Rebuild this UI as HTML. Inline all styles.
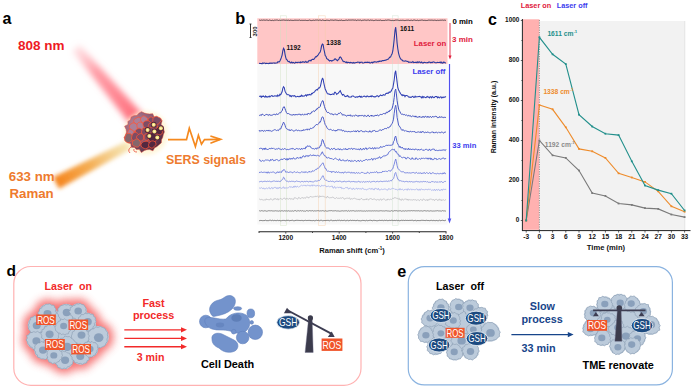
<!DOCTYPE html>
<html><head><meta charset="utf-8"><style>
html,body{margin:0;padding:0;background:#fff;width:692px;height:389px;overflow:hidden}
svg{display:block}
</style></head><body>
<svg width="692" height="389" viewBox="0 0 692 389">
<rect x="257.3" y="18.3" width="190.2" height="45.7" fill="#ffc6c6"/>
<rect x="257.3" y="64" width="190.2" height="160.5" fill="#f8f8f8"/>
<rect x="280.5" y="15.8" width="6.100000000000023" height="209.7" fill="none" stroke="#cfe0c0" stroke-width="0.6" opacity="0.7"/>
<rect x="318.6" y="15.8" width="6.599999999999966" height="209.7" fill="none" stroke="#f4cca8" stroke-width="0.6" opacity="0.7"/>
<rect x="392.3" y="15.8" width="5.800000000000011" height="209.7" fill="none" stroke="#cde0cd" stroke-width="0.6" opacity="0.7"/>
<path d="M259.1,20.19 259.8,20.09 260.5,20.39 261.3,20.04 262.0,20.32 262.7,20.22 263.4,20.03 264.1,20.30 264.9,20.02 265.6,20.26 266.3,20.04 267.0,20.05 267.7,20.25 268.4,20.50 269.2,20.07 269.9,20.13 270.6,20.38 271.3,20.57 272.0,20.35 272.8,20.24 273.5,20.59 274.2,20.03 274.9,20.52 275.6,20.17 276.4,20.09 277.1,20.07 277.8,20.19 278.5,20.49 279.2,20.11 279.9,20.35 280.7,20.38 281.4,20.22 282.1,20.33 282.8,20.04 283.5,20.04 284.3,20.12 285.0,20.41 285.7,20.26 286.4,20.19 287.1,20.35 287.9,20.27 288.6,20.18 289.3,20.48 290.0,20.42 290.7,20.15 291.4,20.34 292.2,20.32 292.9,20.53 293.6,20.44 294.3,20.17 295.0,20.59 295.8,20.07 296.5,20.25 297.2,20.45 297.9,20.09 298.6,20.29 299.4,20.02 300.1,20.40 300.8,20.46 301.5,20.34 302.2,20.53 302.9,20.19 303.7,20.42 304.4,20.36 305.1,20.35 305.8,20.27 306.5,20.50 307.3,20.57 308.0,20.28 308.7,20.40 309.4,20.04 310.1,20.42 310.9,20.39 311.6,20.60 312.3,20.49 313.0,20.17 313.7,20.23 314.5,20.40 315.2,20.01 315.9,20.28 316.6,20.10 317.3,20.07 318.0,20.04 318.8,20.46 319.5,20.08 320.2,20.15 320.9,20.23 321.6,20.52 322.4,20.05 323.1,20.27 323.8,20.33 324.5,20.53 325.2,20.49 326.0,20.52 326.7,20.17 327.4,20.25 328.1,20.22 328.8,20.53 329.5,20.57 330.3,20.09 331.0,20.11 331.7,20.14 332.4,20.14 333.1,20.29 333.9,20.35 334.6,20.16 335.3,20.00 336.0,20.25 336.7,20.22 337.5,20.34 338.2,20.57 338.9,20.41 339.6,20.31 340.3,20.37 341.0,20.41 341.8,20.03 342.5,20.54 343.2,20.47 343.9,20.52 344.6,20.48 345.4,20.24 346.1,20.24 346.8,20.06 347.5,20.38 348.2,20.04 349.0,20.04 349.7,20.13 350.4,20.10 351.1,20.20 351.8,20.03 352.6,20.00 353.3,20.09 354.0,20.06 354.7,20.22 355.4,20.02 356.1,20.52 356.9,20.37 357.6,20.09 358.3,20.15 359.0,20.21 359.7,20.22 360.5,20.07 361.2,20.51 361.9,20.60 362.6,20.28 363.3,20.29 364.1,20.05 364.8,20.06 365.5,20.21 366.2,20.16 366.9,20.50 367.6,20.10 368.4,20.01 369.1,20.57 369.8,20.32 370.5,20.09 371.2,20.33 372.0,20.02 372.7,20.32 373.4,20.59 374.1,20.52 374.8,20.42 375.6,20.16 376.3,20.22 377.0,20.10 377.7,20.46 378.4,20.32 379.1,20.47 379.9,20.20 380.6,20.13 381.3,20.49 382.0,20.59 382.7,20.51 383.5,20.48 384.2,20.49 384.9,20.44 385.6,20.14 386.3,20.31 387.1,20.21 387.8,20.02 388.5,20.02 389.2,20.17 389.9,20.16 390.6,20.42 391.4,20.57 392.1,20.27 392.8,20.56 393.5,20.59 394.2,20.57 395.0,20.22 395.7,20.13 396.4,20.14 397.1,20.12 397.8,20.12 398.6,20.37 399.3,20.54 400.0,20.50 400.7,20.29 401.4,20.39 402.2,20.48 402.9,20.05 403.6,20.40 404.3,20.55 405.0,20.47 405.7,20.45 406.5,20.29 407.2,20.11 407.9,20.47 408.6,20.20 409.3,20.48 410.1,20.58 410.8,20.24 411.5,20.24 412.2,20.57 412.9,20.43 413.7,20.10 414.4,20.08 415.1,20.09 415.8,20.54 416.5,20.48 417.2,20.09 418.0,20.50 418.7,20.59 419.4,20.39 420.1,20.21 420.8,20.33 421.6,20.08 422.3,20.01 423.0,20.58 423.7,20.39 424.4,20.32 425.2,20.56 425.9,20.26 426.6,20.52 427.3,20.50 428.0,20.13 428.7,20.15 429.5,20.18 430.2,20.14 430.9,20.35 431.6,20.16 432.3,20.25 433.1,20.08 433.8,20.55 434.5,20.21 435.2,20.27 435.9,20.35 436.7,20.54 437.4,20.25 438.1,20.55 438.8,20.30 439.5,20.32 440.2,20.31 441.0,20.01 441.7,20.26 442.4,20.11 443.1,20.00 443.8,20.48 444.6,20.10 445.3,20.28 446.0,20.44" fill="none" stroke="#4a3a40" stroke-width="0.9" opacity="1.0"/>
<path d="M259.1,63.51 259.8,63.22 260.5,63.44 261.3,63.47 262.0,63.74 262.7,62.91 263.4,63.44 264.1,63.05 264.9,63.07 265.6,63.65 266.3,63.32 267.0,63.36 267.7,63.58 268.4,63.74 269.2,63.15 269.9,63.32 270.6,63.16 271.3,63.13 272.0,63.31 272.8,62.97 273.5,63.01 274.2,62.87 274.9,63.34 275.6,62.94 276.4,63.01 277.1,62.92 277.8,61.86 278.5,61.89 279.2,61.89 279.9,61.08 280.7,59.17 281.4,57.43 282.1,55.08 282.8,50.85 283.5,48.31 284.3,49.57 285.0,54.09 285.7,57.35 286.4,59.49 287.1,59.82 287.9,61.27 288.6,61.70 289.3,61.42 290.0,62.55 290.7,62.81 291.4,62.04 292.2,63.00 292.9,62.40 293.6,62.55 294.3,63.18 295.0,63.01 295.8,62.21 296.5,62.54 297.2,62.63 297.9,62.40 298.6,62.21 299.4,62.33 300.1,62.78 300.8,61.90 301.5,62.49 302.2,62.30 302.9,61.73 303.7,62.03 304.4,62.30 305.1,62.07 305.8,61.42 306.5,62.40 307.3,62.02 308.0,62.08 308.7,60.84 309.4,60.82 310.1,60.29 310.9,60.88 311.6,59.93 312.3,59.36 313.0,59.26 313.7,59.33 314.5,58.64 315.2,57.34 315.9,56.55 316.6,56.80 317.3,55.70 318.0,55.19 318.8,53.72 319.5,52.74 320.2,52.07 320.9,49.46 321.6,45.78 322.4,44.09 323.1,44.60 323.8,48.75 324.5,51.81 325.2,55.54 326.0,56.45 326.7,58.66 327.4,59.04 328.1,59.53 328.8,60.24 329.5,61.03 330.3,60.49 331.0,60.49 331.7,61.05 332.4,60.68 333.1,60.35 333.9,59.97 334.6,59.05 335.3,58.78 336.0,59.50 336.7,60.05 337.5,60.69 338.2,59.74 338.9,59.07 339.6,57.31 340.3,56.84 341.0,57.53 341.8,59.32 342.5,60.09 343.2,61.59 343.9,61.77 344.6,61.59 345.4,62.10 346.1,62.78 346.8,61.87 347.5,62.79 348.2,62.38 349.0,62.50 349.7,62.94 350.4,62.44 351.1,62.60 351.8,62.83 352.6,63.20 353.3,62.44 354.0,63.04 354.7,62.90 355.4,62.82 356.1,62.54 356.9,62.48 357.6,62.13 358.3,62.22 359.0,62.14 359.7,62.94 360.5,62.36 361.2,62.24 361.9,62.14 362.6,63.04 363.3,63.07 364.1,62.82 364.8,62.34 365.5,62.28 366.2,62.33 366.9,62.51 367.6,62.13 368.4,62.46 369.1,62.22 369.8,63.03 370.5,63.02 371.2,62.48 372.0,62.08 372.7,62.91 373.4,62.09 374.1,62.10 374.8,61.63 375.6,62.03 376.3,62.08 377.0,62.05 377.7,61.61 378.4,61.89 379.1,61.20 379.9,61.40 380.6,61.07 381.3,61.30 382.0,60.71 382.7,60.50 383.5,60.63 384.2,60.31 384.9,60.47 385.6,60.10 386.3,60.02 387.1,59.54 387.8,59.19 388.5,58.93 389.2,57.82 389.9,57.11 390.6,57.07 391.4,54.92 392.1,53.85 392.8,50.95 393.5,45.60 394.2,39.24 395.0,30.54 395.7,27.20 396.4,34.08 397.1,43.14 397.8,48.79 398.6,53.31 399.3,55.83 400.0,57.88 400.7,58.97 401.4,59.80 402.2,60.09 402.9,60.90 403.6,60.99 404.3,61.27 405.0,60.92 405.7,60.86 406.5,61.13 407.2,61.52 407.9,61.32 408.6,62.28 409.3,62.03 410.1,62.17 410.8,62.23 411.5,62.34 412.2,62.16 412.9,61.61 413.7,62.60 414.4,62.57 415.1,62.30 415.8,62.36 416.5,62.53 417.2,61.84 418.0,62.66 418.7,62.10 419.4,61.90 420.1,62.14 420.8,62.71 421.6,62.09 422.3,62.74 423.0,63.03 423.7,62.46 424.4,62.33 425.2,62.45 425.9,62.70 426.6,62.81 427.3,62.63 428.0,62.67 428.7,61.99 429.5,62.08 430.2,62.21 430.9,62.80 431.6,62.28 432.3,62.59 433.1,61.93 433.8,61.99 434.5,62.24 435.2,62.72 435.9,62.75 436.7,62.73 437.4,62.26 438.1,62.54 438.8,62.47 439.5,62.47 440.2,62.06 441.0,62.99 441.7,62.15 442.4,63.09 443.1,63.03 443.8,61.93 444.6,62.46 445.3,62.89 446.0,63.07" fill="none" stroke="#2a3a9e" stroke-width="1.1" opacity="1.0"/>
<path d="M259.1,96.49 259.8,96.22 260.5,96.13 261.3,97.23 262.0,96.12 262.7,96.67 263.4,96.01 264.1,96.58 264.9,97.22 265.6,95.98 266.3,97.00 267.0,96.53 267.7,97.09 268.4,96.80 269.2,96.08 269.9,97.06 270.6,96.43 271.3,95.72 272.0,95.66 272.8,96.36 273.5,96.27 274.2,96.00 274.9,95.70 275.6,95.94 276.4,95.81 277.1,96.48 277.8,95.07 278.5,95.99 279.2,95.81 279.9,94.28 280.7,94.79 281.4,93.34 282.1,91.81 282.8,88.40 283.5,86.71 284.3,87.71 285.0,91.13 285.7,92.59 286.4,93.57 287.1,94.48 287.9,94.77 288.6,94.76 289.3,95.06 290.0,96.32 290.7,95.61 291.4,96.66 292.2,95.69 292.9,95.75 293.6,96.15 294.3,95.68 295.0,95.97 295.8,96.85 296.5,96.73 297.2,96.61 297.9,96.33 298.6,96.73 299.4,96.74 300.1,96.13 300.8,96.34 301.5,95.29 302.2,96.27 302.9,95.78 303.7,96.17 304.4,95.93 305.1,95.30 305.8,94.84 306.5,96.04 307.3,94.70 308.0,95.06 308.7,94.69 309.4,94.40 310.1,94.82 310.9,94.89 311.6,93.48 312.3,93.69 313.0,92.72 313.7,92.60 314.5,91.80 315.2,90.85 315.9,90.21 316.6,89.63 317.3,90.05 318.0,88.82 318.8,87.75 319.5,87.95 320.2,86.85 320.9,84.02 321.6,80.68 322.4,78.37 323.1,79.05 323.8,83.02 324.5,86.20 325.2,88.97 326.0,90.70 326.7,92.32 327.4,93.60 328.1,93.98 328.8,93.90 329.5,94.21 330.3,94.59 331.0,94.51 331.7,94.50 332.4,94.02 333.1,94.08 333.9,94.51 334.6,92.21 335.3,92.19 336.0,93.18 336.7,94.33 337.5,93.59 338.2,93.36 338.9,92.44 339.6,91.32 340.3,90.73 341.0,92.59 341.8,93.97 342.5,95.08 343.2,94.45 343.9,94.87 344.6,96.15 345.4,96.61 346.1,96.11 346.8,96.37 347.5,95.57 348.2,96.22 349.0,97.07 349.7,96.96 350.4,97.03 351.1,97.24 351.8,96.18 352.6,95.99 353.3,96.08 354.0,96.64 354.7,96.90 355.4,97.30 356.1,96.98 356.9,96.87 357.6,97.06 358.3,96.60 359.0,96.75 359.7,95.98 360.5,97.10 361.2,96.28 361.9,97.31 362.6,96.89 363.3,96.38 364.1,96.11 364.8,96.29 365.5,96.86 366.2,96.95 366.9,96.06 367.6,95.98 368.4,96.65 369.1,96.72 369.8,96.41 370.5,96.15 371.2,96.69 372.0,95.78 372.7,96.19 373.4,96.39 374.1,97.10 374.8,96.59 375.6,96.90 376.3,96.23 377.0,95.81 377.7,95.76 378.4,96.74 379.1,96.27 379.9,95.57 380.6,95.02 381.3,95.59 382.0,95.70 382.7,95.14 383.5,94.69 384.2,95.07 384.9,95.19 385.6,93.85 386.3,93.24 387.1,93.36 387.8,93.12 388.5,93.13 389.2,92.00 389.9,92.44 390.6,91.79 391.4,90.67 392.1,89.05 392.8,88.30 393.5,84.13 394.2,79.82 395.0,72.84 395.7,70.77 396.4,76.43 397.1,82.13 397.8,87.74 398.6,89.98 399.3,91.36 400.0,92.63 400.7,93.76 401.4,94.73 402.2,95.60 402.9,94.74 403.6,95.38 404.3,95.32 405.0,96.64 405.7,95.53 406.5,95.52 407.2,95.63 407.9,96.22 408.6,97.06 409.3,97.10 410.1,96.94 410.8,97.39 411.5,97.33 412.2,96.47 412.9,96.30 413.7,97.46 414.4,97.20 415.1,96.16 415.8,97.14 416.5,96.73 417.2,96.75 418.0,96.71 418.7,96.48 419.4,96.25 420.1,96.68 420.8,96.81 421.6,97.73 422.3,96.49 423.0,97.77 423.7,96.65 424.4,96.88 425.2,97.59 425.9,97.60 426.6,97.03 427.3,96.46 428.0,97.11 428.7,96.97 429.5,97.80 430.2,96.71 430.9,96.98 431.6,97.79 432.3,96.49 433.1,97.07 433.8,97.68 434.5,97.62 435.2,96.54 435.9,96.54 436.7,96.58 437.4,97.88 438.1,96.89 438.8,97.63 439.5,97.86 440.2,97.03 441.0,96.93 441.7,97.97 442.4,97.46 443.1,96.93 443.8,97.62 444.6,97.03 445.3,96.97 446.0,96.57" fill="none" stroke="#3141b4" stroke-width="1.05" opacity="1.0"/>
<path d="M259.1,115.18 259.8,115.44 260.5,115.00 261.3,115.50 262.0,114.03 262.7,114.37 263.4,114.76 264.1,115.53 264.9,115.53 265.6,114.62 266.3,114.40 267.0,114.69 267.7,114.79 268.4,115.48 269.2,114.28 269.9,115.27 270.6,115.15 271.3,115.28 272.0,115.18 272.8,114.90 273.5,114.42 274.2,114.38 274.9,114.40 275.6,115.02 276.4,113.82 277.1,113.92 277.8,114.67 278.5,113.68 279.2,113.12 279.9,112.66 280.7,112.86 281.4,111.47 282.1,110.88 282.8,108.46 283.5,106.99 284.3,106.72 285.0,108.72 285.7,110.63 286.4,112.49 287.1,113.57 287.9,113.62 288.6,113.59 289.3,114.09 290.0,114.57 290.7,114.76 291.4,114.95 292.2,115.17 292.9,114.92 293.6,114.08 294.3,115.26 295.0,114.39 295.8,114.84 296.5,114.53 297.2,115.11 297.9,114.24 298.6,114.30 299.4,114.28 300.1,114.10 300.8,115.24 301.5,114.72 302.2,114.27 302.9,114.33 303.7,115.23 304.4,114.38 305.1,113.86 305.8,114.69 306.5,114.33 307.3,114.74 308.0,113.17 308.7,113.60 309.4,113.95 310.1,113.75 310.9,113.60 311.6,111.88 312.3,111.92 313.0,111.22 313.7,110.86 314.5,111.58 315.2,110.39 315.9,110.35 316.6,108.87 317.3,109.10 318.0,107.92 318.8,107.11 319.5,107.33 320.2,106.69 320.9,103.85 321.6,102.46 322.4,100.71 323.1,100.84 323.8,104.02 324.5,106.58 325.2,108.78 326.0,110.29 326.7,111.82 327.4,112.61 328.1,112.42 328.8,112.51 329.5,113.33 330.3,114.15 331.0,113.56 331.7,113.93 332.4,113.90 333.1,114.95 333.9,114.65 334.6,113.93 335.3,114.03 336.0,114.50 336.7,114.70 337.5,114.71 338.2,113.57 338.9,113.21 339.6,113.39 340.3,112.60 341.0,112.93 341.8,113.72 342.5,115.27 343.2,114.57 343.9,115.18 344.6,114.99 345.4,115.18 346.1,115.97 346.8,116.24 347.5,115.28 348.2,115.05 349.0,115.93 349.7,115.12 350.4,114.83 351.1,116.29 351.8,115.54 352.6,116.20 353.3,115.55 354.0,116.33 354.7,115.67 355.4,115.20 356.1,114.98 356.9,115.85 357.6,116.00 358.3,116.44 359.0,115.14 359.7,115.99 360.5,115.60 361.2,115.82 361.9,115.25 362.6,115.47 363.3,115.85 364.1,116.50 364.8,115.19 365.5,115.79 366.2,116.29 366.9,116.54 367.6,115.31 368.4,115.18 369.1,116.48 369.8,116.51 370.5,115.71 371.2,115.00 372.0,116.37 372.7,115.48 373.4,116.27 374.1,115.78 374.8,116.06 375.6,114.95 376.3,115.90 377.0,114.93 377.7,115.14 378.4,115.76 379.1,115.64 379.9,114.49 380.6,114.41 381.3,114.55 382.0,114.56 382.7,114.15 383.5,113.50 384.2,113.44 384.9,113.91 385.6,113.86 386.3,112.13 387.1,112.59 387.8,112.50 388.5,110.94 389.2,111.78 389.9,110.14 390.6,110.33 391.4,109.45 392.1,108.35 392.8,105.84 393.5,102.66 394.2,97.56 395.0,90.85 395.7,89.06 396.4,93.91 397.1,100.72 397.8,105.00 398.6,109.08 399.3,110.85 400.0,111.76 400.7,113.51 401.4,114.18 402.2,114.15 402.9,114.08 403.6,114.85 404.3,114.50 405.0,114.73 405.7,115.38 406.5,114.97 407.2,115.65 407.9,115.87 408.6,115.21 409.3,116.24 410.1,115.42 410.8,116.53 411.5,116.66 412.2,116.29 412.9,115.60 413.7,116.37 414.4,116.21 415.1,117.16 415.8,115.89 416.5,117.08 417.2,117.33 418.0,116.94 418.7,117.10 419.4,116.13 420.1,117.42 420.8,116.66 421.6,117.43 422.3,117.38 423.0,116.20 423.7,117.22 424.4,117.47 425.2,116.10 425.9,116.58 426.6,117.24 427.3,116.31 428.0,117.50 428.7,116.52 429.5,117.41 430.2,116.35 430.9,116.94 431.6,117.62 432.3,116.49 433.1,116.60 433.8,117.00 434.5,116.71 435.2,116.28 435.9,116.52 436.7,116.50 437.4,117.76 438.1,117.36 438.8,117.72 439.5,116.57 440.2,117.56 441.0,116.50 441.7,117.18 442.4,117.36 443.1,116.93 443.8,117.77 444.6,117.27 445.3,117.32 446.0,117.82" fill="none" stroke="#4050c0" stroke-width="1.0" opacity="1.0"/>
<path d="M259.1,130.05 259.8,131.47 260.5,130.89 261.3,130.52 262.0,131.16 262.7,130.31 263.4,131.48 264.1,130.82 264.9,130.47 265.6,131.11 266.3,130.60 267.0,130.17 267.7,131.07 268.4,129.96 269.2,131.18 269.9,130.27 270.6,130.88 271.3,131.42 272.0,130.76 272.8,130.87 273.5,130.28 274.2,129.75 274.9,129.76 275.6,129.90 276.4,130.57 277.1,130.19 277.8,130.19 278.5,130.63 279.2,129.16 279.9,128.94 280.7,129.03 281.4,127.07 282.1,125.52 282.8,123.99 283.5,122.08 284.3,123.30 285.0,125.20 285.7,127.52 286.4,128.65 287.1,128.72 287.9,129.82 288.6,129.87 289.3,129.52 290.0,130.94 290.7,129.92 291.4,129.84 292.2,129.81 292.9,130.71 293.6,131.11 294.3,130.99 295.0,130.39 295.8,130.17 296.5,129.76 297.2,130.77 297.9,130.63 298.6,130.27 299.4,130.72 300.1,130.37 300.8,131.13 301.5,130.76 302.2,129.94 302.9,130.93 303.7,129.50 304.4,130.21 305.1,129.92 305.8,129.56 306.5,129.16 307.3,130.18 308.0,128.81 308.7,129.50 309.4,129.92 310.1,128.41 310.9,128.23 311.6,128.56 312.3,128.03 313.0,127.83 313.7,127.62 314.5,126.07 315.2,125.72 315.9,125.11 316.6,124.12 317.3,124.91 318.0,124.23 318.8,123.62 319.5,121.89 320.2,122.34 320.9,120.71 321.6,118.12 322.4,116.81 323.1,117.11 323.8,119.66 324.5,122.34 325.2,124.62 326.0,125.72 326.7,127.16 327.4,128.52 328.1,128.95 328.8,129.59 329.5,129.69 330.3,129.23 331.0,129.89 331.7,129.87 332.4,130.58 333.1,130.27 333.9,129.95 334.6,130.62 335.3,131.19 336.0,130.02 336.7,131.06 337.5,129.61 338.2,129.84 338.9,129.49 339.6,129.85 340.3,129.96 341.0,130.02 341.8,129.86 342.5,131.12 343.2,130.46 343.9,130.47 344.6,131.64 345.4,131.27 346.1,131.42 346.8,131.42 347.5,131.96 348.2,131.18 349.0,131.80 349.7,131.60 350.4,131.87 351.1,131.22 351.8,131.70 352.6,131.46 353.3,131.06 354.0,130.92 354.7,131.58 355.4,130.72 356.1,132.07 356.9,130.85 357.6,130.67 358.3,130.80 359.0,132.12 359.7,131.19 360.5,130.87 361.2,130.69 361.9,130.71 362.6,131.75 363.3,131.66 364.1,131.76 364.8,131.82 365.5,130.74 366.2,131.57 366.9,131.20 367.6,131.91 368.4,131.90 369.1,132.00 369.8,130.67 370.5,131.93 371.2,131.98 372.0,132.00 372.7,130.63 373.4,130.76 374.1,130.57 374.8,130.40 375.6,131.65 376.3,131.53 377.0,131.18 377.7,131.41 378.4,131.01 379.1,130.36 379.9,129.94 380.6,129.81 381.3,130.71 382.0,129.65 382.7,129.63 383.5,129.57 384.2,128.66 384.9,128.75 385.6,128.46 386.3,128.80 387.1,127.87 387.8,127.40 388.5,128.02 389.2,126.86 389.9,126.94 390.6,126.01 391.4,124.29 392.1,123.73 392.8,121.84 393.5,119.14 394.2,113.28 395.0,107.61 395.7,105.27 396.4,109.77 397.1,117.41 397.8,120.95 398.6,125.14 399.3,126.02 400.0,127.02 400.7,128.22 401.4,129.74 402.2,130.56 402.9,129.36 403.6,130.43 404.3,130.66 405.0,131.34 405.7,130.52 406.5,131.15 407.2,131.03 407.9,131.90 408.6,131.07 409.3,132.24 410.1,131.26 410.8,131.21 411.5,132.04 412.2,131.77 412.9,131.19 413.7,132.07 414.4,131.22 415.1,132.39 415.8,132.28 416.5,132.45 417.2,132.23 418.0,131.82 418.7,131.92 419.4,131.93 420.1,132.75 420.8,131.48 421.6,132.79 422.3,131.43 423.0,131.73 423.7,131.84 424.4,132.88 425.2,132.26 425.9,132.08 426.6,132.90 427.3,131.88 428.0,132.26 428.7,132.38 429.5,132.75 430.2,132.77 430.9,132.61 431.6,132.15 432.3,132.12 433.1,131.86 433.8,132.97 434.5,132.70 435.2,132.84 435.9,131.93 436.7,132.37 437.4,132.92 438.1,132.62 438.8,131.91 439.5,132.45 440.2,133.14 441.0,132.12 441.7,132.05 442.4,132.24 443.1,132.89 443.8,133.13 444.6,132.03 445.3,132.04 446.0,132.20" fill="none" stroke="#4e5ec8" stroke-width="1.0" opacity="1.0"/>
<path d="M259.1,148.42 259.8,148.81 260.5,148.09 261.3,148.43 262.0,148.16 262.7,149.74 263.4,149.25 264.1,148.00 264.9,149.73 265.6,148.01 266.3,148.58 267.0,149.78 267.7,149.41 268.4,149.29 269.2,148.70 269.9,148.23 270.6,149.11 271.3,148.06 272.0,148.26 272.8,148.63 273.5,147.92 274.2,148.66 274.9,149.45 275.6,149.25 276.4,148.87 277.1,149.14 277.8,148.81 278.5,148.17 279.2,149.10 279.9,148.70 280.7,149.38 281.4,149.71 282.1,148.76 282.8,149.05 283.5,149.41 284.3,148.75 285.0,148.37 285.7,149.36 286.4,149.68 287.1,149.47 287.9,149.32 288.6,149.63 289.3,149.29 290.0,149.21 290.7,148.84 291.4,148.56 292.2,149.19 292.9,148.12 293.6,148.77 294.3,149.49 295.0,149.35 295.8,149.18 296.5,148.41 297.2,148.75 297.9,148.80 298.6,149.12 299.4,148.68 300.1,149.19 300.8,149.67 301.5,148.13 302.2,149.02 302.9,149.20 303.7,148.32 304.4,148.37 305.1,149.12 305.8,146.90 306.5,147.36 307.3,145.81 308.0,146.20 308.7,146.30 309.4,146.12 310.1,146.13 310.9,147.71 311.6,148.05 312.3,148.64 313.0,148.38 313.7,148.72 314.5,149.14 315.2,148.52 315.9,148.26 316.6,149.26 317.3,147.66 318.0,148.41 318.8,147.51 319.5,147.73 320.2,145.59 320.9,145.85 321.6,142.30 322.4,139.43 323.1,140.20 323.8,142.94 324.5,144.32 325.2,146.46 326.0,147.27 326.7,148.31 327.4,147.94 328.1,147.98 328.8,148.05 329.5,149.20 330.3,149.68 331.0,148.92 331.7,148.35 332.4,149.56 333.1,148.77 333.9,148.44 334.6,148.30 335.3,149.61 336.0,149.70 336.7,149.36 337.5,149.04 338.2,149.24 338.9,148.58 339.6,150.06 340.3,148.85 341.0,149.42 341.8,149.79 342.5,149.79 343.2,149.10 343.9,148.75 344.6,149.26 345.4,148.42 346.1,149.83 346.8,148.88 347.5,149.87 348.2,148.70 349.0,148.92 349.7,148.67 350.4,149.01 351.1,148.53 351.8,148.16 352.6,149.59 353.3,148.71 354.0,148.63 354.7,148.73 355.4,149.08 356.1,148.97 356.9,149.38 357.6,149.41 358.3,148.80 359.0,149.92 359.7,149.76 360.5,148.15 361.2,149.67 361.9,149.81 362.6,149.54 363.3,148.23 364.1,149.59 364.8,149.16 365.5,147.90 366.2,147.86 366.9,149.70 367.6,149.07 368.4,148.22 369.1,147.87 369.8,147.90 370.5,148.03 371.2,149.05 372.0,148.12 372.7,147.66 373.4,149.09 374.1,148.78 374.8,147.43 375.6,148.78 376.3,148.10 377.0,148.33 377.7,147.98 378.4,148.29 379.1,147.93 379.9,147.88 380.6,146.44 381.3,147.27 382.0,146.79 382.7,147.05 383.5,146.29 384.2,147.03 384.9,146.25 385.6,145.55 386.3,145.39 387.1,145.12 387.8,145.77 388.5,144.84 389.2,145.60 389.9,144.87 390.6,145.43 391.4,145.21 392.1,144.86 392.8,144.74 393.5,141.62 394.2,140.87 395.0,136.96 395.7,136.04 396.4,138.96 397.1,142.63 397.8,143.95 398.6,145.42 399.3,147.38 400.0,146.20 400.7,147.74 401.4,148.05 402.2,147.08 402.9,148.44 403.6,148.74 404.3,149.38 405.0,148.29 405.7,149.70 406.5,148.84 407.2,148.87 407.9,149.77 408.6,148.11 409.3,149.54 410.1,149.40 410.8,148.88 411.5,149.97 412.2,149.03 412.9,149.28 413.7,149.42 414.4,149.95 415.1,148.86 415.8,149.34 416.5,149.34 417.2,149.63 418.0,150.20 418.7,149.16 419.4,150.25 420.1,149.43 420.8,149.65 421.6,149.20 422.3,149.69 423.0,150.65 423.7,150.02 424.4,150.32 425.2,149.41 425.9,149.40 426.6,149.38 427.3,149.97 428.0,150.08 428.7,150.39 429.5,148.92 430.2,150.29 430.9,150.63 431.6,149.97 432.3,148.99 433.1,149.50 433.8,148.92 434.5,149.30 435.2,150.77 435.9,150.16 436.7,150.27 437.4,150.54 438.1,150.79 438.8,150.21 439.5,150.23 440.2,150.26 441.0,150.40 441.7,150.21 442.4,150.39 443.1,149.46 443.8,150.38 444.6,149.97 445.3,150.59 446.0,149.28" fill="none" stroke="#4a5ccc" stroke-width="0.95" opacity="1.0"/>
<path d="M259.1,159.98 259.8,159.67 260.5,161.13 261.3,161.39 262.0,160.85 262.7,160.26 263.4,161.15 264.1,161.05 264.9,160.58 265.6,159.95 266.3,160.02 267.0,160.24 267.7,160.01 268.4,160.21 269.2,160.60 269.9,161.16 270.6,159.38 271.3,160.38 272.0,159.29 272.8,159.42 273.5,160.78 274.2,160.28 274.9,160.93 275.6,159.95 276.4,159.06 277.1,159.77 277.8,160.14 278.5,160.79 279.2,160.84 279.9,159.79 280.7,159.62 281.4,158.95 282.1,159.99 282.8,159.08 283.5,158.91 284.3,158.58 285.0,158.51 285.7,159.81 286.4,158.62 287.1,160.25 287.9,158.43 288.6,159.92 289.3,158.37 290.0,158.07 290.7,159.39 291.4,158.35 292.2,159.25 292.9,158.06 293.6,157.69 294.3,159.03 295.0,158.81 295.8,158.98 296.5,158.61 297.2,157.20 297.9,158.16 298.6,158.19 299.4,157.56 300.1,158.36 300.8,156.86 301.5,158.13 302.2,157.49 302.9,155.92 303.7,155.78 304.4,156.90 305.1,157.08 305.8,155.46 306.5,155.78 307.3,156.48 308.0,155.23 308.7,156.51 309.4,155.66 310.1,154.72 310.9,155.27 311.6,155.63 312.3,155.32 313.0,155.78 313.7,154.71 314.5,156.03 315.2,155.18 315.9,155.77 316.6,155.76 317.3,155.34 318.0,155.26 318.8,155.98 319.5,156.12 320.2,155.45 320.9,154.40 321.6,152.96 322.4,151.75 323.1,153.85 323.8,154.45 324.5,155.84 325.2,155.69 326.0,156.82 326.7,157.99 327.4,158.02 328.1,157.82 328.8,157.45 329.5,157.88 330.3,158.96 331.0,158.09 331.7,158.84 332.4,158.81 333.1,159.52 333.9,159.46 334.6,158.52 335.3,158.06 336.0,158.68 336.7,159.10 337.5,159.53 338.2,160.08 338.9,160.31 339.6,158.71 340.3,160.38 341.0,160.43 341.8,160.62 342.5,160.12 343.2,159.61 343.9,160.85 344.6,160.84 345.4,160.68 346.1,161.21 346.8,160.16 347.5,159.71 348.2,160.72 349.0,161.27 349.7,160.14 350.4,161.30 351.1,161.71 351.8,160.36 352.6,161.14 353.3,161.31 354.0,160.91 354.7,160.40 355.4,160.50 356.1,161.48 356.9,161.55 357.6,160.86 358.3,160.08 359.0,161.47 359.7,161.35 360.5,160.22 361.2,160.85 361.9,161.41 362.6,161.32 363.3,160.52 364.1,160.35 364.8,160.49 365.5,159.61 366.2,159.53 366.9,159.41 367.6,160.37 368.4,159.60 369.1,159.91 369.8,159.49 370.5,159.62 371.2,158.78 372.0,158.47 372.7,160.26 373.4,158.90 374.1,158.25 374.8,159.17 375.6,159.34 376.3,157.94 377.0,158.66 377.7,157.99 378.4,158.16 379.1,156.96 379.9,156.77 380.6,158.44 381.3,157.93 382.0,156.88 382.7,156.73 383.5,155.78 384.2,156.44 384.9,155.33 385.6,155.95 386.3,155.14 387.1,154.78 387.8,154.59 388.5,152.67 389.2,151.73 389.9,151.50 390.6,150.85 391.4,149.95 392.1,149.12 392.8,149.43 393.5,149.69 394.2,149.09 395.0,150.90 395.7,151.99 396.4,151.50 397.1,153.64 397.8,154.12 398.6,154.29 399.3,156.55 400.0,155.61 400.7,156.61 401.4,157.09 402.2,157.98 402.9,157.64 403.6,157.27 404.3,157.55 405.0,157.11 405.7,158.85 406.5,159.01 407.2,157.56 407.9,157.28 408.6,157.78 409.3,158.04 410.1,159.20 410.8,159.25 411.5,159.16 412.2,157.62 412.9,159.14 413.7,159.02 414.4,158.92 415.1,159.62 415.8,157.79 416.5,157.99 417.2,159.22 418.0,159.61 418.7,159.10 419.4,158.36 420.1,158.95 420.8,159.30 421.6,158.00 422.3,158.44 423.0,158.32 423.7,158.06 424.4,158.78 425.2,158.16 425.9,158.30 426.6,158.11 427.3,159.18 428.0,157.85 428.7,159.26 429.5,158.22 430.2,157.90 430.9,159.69 431.6,158.27 432.3,159.70 433.1,159.56 433.8,159.60 434.5,158.10 435.2,158.72 435.9,158.01 436.7,159.67 437.4,159.50 438.1,159.07 438.8,158.71 439.5,158.48 440.2,159.45 441.0,158.75 441.7,159.05 442.4,158.07 443.1,158.23 443.8,157.89 444.6,159.20 445.3,158.88 446.0,158.05" fill="none" stroke="#5a6ad2" stroke-width="0.95" opacity="1.0"/>
<path d="M259.1,173.05 259.8,172.08 260.5,172.31 261.3,171.91 262.0,172.09 262.7,173.00 263.4,172.20 264.1,171.93 264.9,172.45 265.6,172.18 266.3,173.11 267.0,171.85 267.7,173.24 268.4,171.76 269.2,173.10 269.9,172.74 270.6,172.01 271.3,172.43 272.0,172.12 272.8,172.08 273.5,171.98 274.2,172.24 274.9,173.23 275.6,173.23 276.4,173.10 277.1,171.76 277.8,172.05 278.5,172.98 279.2,171.59 279.9,172.58 280.7,171.75 281.4,172.61 282.1,170.63 282.8,171.12 283.5,169.64 284.3,169.74 285.0,170.38 285.7,172.25 286.4,172.05 287.1,171.67 287.9,172.16 288.6,172.99 289.3,171.91 290.0,172.51 290.7,171.83 291.4,171.91 292.2,172.86 292.9,172.77 293.6,171.95 294.3,171.76 295.0,171.77 295.8,172.60 296.5,172.42 297.2,172.06 297.9,171.94 298.6,172.58 299.4,172.72 300.1,172.87 300.8,172.49 301.5,171.86 302.2,171.62 302.9,172.67 303.7,172.12 304.4,172.59 305.1,171.49 305.8,172.65 306.5,171.84 307.3,172.60 308.0,172.57 308.7,171.90 309.4,171.04 310.1,172.37 310.9,171.55 311.6,172.04 312.3,170.90 313.0,170.56 313.7,171.36 314.5,170.33 315.2,169.67 315.9,169.63 316.6,169.57 317.3,168.16 318.0,168.48 318.8,167.81 319.5,167.27 320.2,165.77 320.9,165.51 321.6,164.20 322.4,163.21 323.1,162.78 323.8,165.14 324.5,166.52 325.2,168.60 326.0,168.56 326.7,170.60 327.4,171.27 328.1,170.93 328.8,171.26 329.5,171.51 330.3,171.71 331.0,171.03 331.7,172.67 332.4,171.58 333.1,171.60 333.9,171.55 334.6,171.85 335.3,172.81 336.0,171.60 336.7,171.74 337.5,172.75 338.2,171.97 338.9,171.72 339.6,172.68 340.3,172.66 341.0,172.60 341.8,172.91 342.5,171.96 343.2,173.21 343.9,172.98 344.6,171.92 345.4,172.05 346.1,172.66 346.8,172.68 347.5,172.34 348.2,172.09 349.0,172.56 349.7,172.13 350.4,172.87 351.1,173.31 351.8,172.17 352.6,172.86 353.3,173.14 354.0,172.21 354.7,173.27 355.4,173.45 356.1,172.58 356.9,172.63 357.6,173.30 358.3,172.80 359.0,172.60 359.7,173.47 360.5,173.20 361.2,172.50 361.9,172.34 362.6,172.49 363.3,172.65 364.1,173.52 364.8,173.23 365.5,173.40 366.2,173.23 366.9,173.28 367.6,171.99 368.4,172.73 369.1,173.42 369.8,173.36 370.5,172.25 371.2,172.51 372.0,172.82 372.7,172.37 373.4,172.61 374.1,171.84 374.8,172.39 375.6,172.46 376.3,171.64 377.0,171.78 377.7,173.06 378.4,172.69 379.1,172.87 379.9,172.31 380.6,172.51 381.3,172.54 382.0,172.44 382.7,170.97 383.5,171.84 384.2,171.13 384.9,171.68 385.6,170.93 386.3,171.27 387.1,171.80 387.8,171.24 388.5,170.57 389.2,170.90 389.9,170.63 390.6,171.25 391.4,169.85 392.1,169.31 392.8,168.88 393.5,166.34 394.2,164.25 395.0,161.11 395.7,159.04 396.4,161.64 397.1,165.65 397.8,168.24 398.6,169.12 399.3,169.99 400.0,170.60 400.7,171.26 401.4,171.72 402.2,171.75 402.9,171.84 403.6,171.71 404.3,172.55 405.0,173.10 405.7,172.80 406.5,172.80 407.2,172.98 407.9,172.30 408.6,173.16 409.3,172.79 410.1,172.96 410.8,173.09 411.5,172.89 412.2,172.66 412.9,172.57 413.7,172.55 414.4,173.04 415.1,172.85 415.8,173.18 416.5,172.28 417.2,172.84 418.0,173.67 418.7,172.68 419.4,173.20 420.1,173.11 420.8,172.79 421.6,173.92 422.3,172.82 423.0,173.60 423.7,172.62 424.4,172.48 425.2,173.78 425.9,173.10 426.6,172.50 427.3,173.03 428.0,173.12 428.7,173.60 429.5,172.60 430.2,172.79 430.9,173.98 431.6,173.63 432.3,172.70 433.1,173.00 433.8,173.03 434.5,173.55 435.2,173.46 435.9,173.84 436.7,173.80 437.4,173.32 438.1,173.68 438.8,173.69 439.5,173.72 440.2,173.27 441.0,173.77 441.7,173.66 442.4,173.99 443.1,172.74 443.8,173.93 444.6,172.55 445.3,173.77 446.0,173.49" fill="none" stroke="#6e7ddc" stroke-width="0.9" opacity="1.0"/>
<path d="M259.1,181.38 259.8,181.94 260.5,181.47 261.3,181.29 262.0,181.73 262.7,181.84 263.4,181.52 264.1,181.25 264.9,181.34 265.6,181.34 266.3,181.66 267.0,181.15 267.7,181.26 268.4,181.46 269.2,181.26 269.9,181.18 270.6,181.74 271.3,181.81 272.0,181.38 272.8,181.31 273.5,181.00 274.2,181.13 274.9,180.93 275.6,181.43 276.4,181.42 277.1,180.81 277.8,181.77 278.5,181.00 279.2,181.55 279.9,181.43 280.7,181.38 281.4,180.14 282.1,179.78 282.8,179.25 283.5,177.13 284.3,177.77 285.0,179.63 285.7,180.33 286.4,181.26 287.1,181.32 287.9,181.18 288.6,181.82 289.3,181.30 290.0,181.34 290.7,181.58 291.4,181.25 292.2,181.23 292.9,181.53 293.6,181.24 294.3,181.97 295.0,181.65 295.8,181.48 296.5,180.97 297.2,181.31 297.9,181.35 298.6,181.54 299.4,181.56 300.1,181.93 300.8,182.03 301.5,181.46 302.2,181.41 302.9,181.63 303.7,182.08 304.4,181.29 305.1,181.52 305.8,181.86 306.5,181.08 307.3,181.26 308.0,182.05 308.7,181.86 309.4,181.48 310.1,180.99 310.9,181.92 311.6,181.66 312.3,181.81 313.0,181.99 313.7,181.85 314.5,181.25 315.2,180.90 315.9,181.01 316.6,181.20 317.3,181.09 318.0,180.57 318.8,180.34 319.5,180.54 320.2,179.94 320.9,178.68 321.6,177.95 322.4,176.04 323.1,175.54 323.8,177.60 324.5,179.45 325.2,179.74 326.0,180.71 326.7,180.21 327.4,180.77 328.1,181.56 328.8,181.35 329.5,181.52 330.3,181.01 331.0,181.41 331.7,181.51 332.4,181.19 333.1,181.67 333.9,181.55 334.6,182.13 335.3,181.63 336.0,181.45 336.7,181.11 337.5,181.16 338.2,181.89 338.9,181.12 339.6,181.12 340.3,181.21 341.0,181.64 341.8,182.00 342.5,181.75 343.2,181.99 343.9,181.10 344.6,181.05 345.4,181.96 346.1,181.43 346.8,181.90 347.5,181.47 348.2,181.25 349.0,181.37 349.7,181.18 350.4,182.14 351.1,181.76 351.8,181.48 352.6,181.61 353.3,181.53 354.0,181.14 354.7,182.15 355.4,181.78 356.1,182.23 356.9,181.61 357.6,181.83 358.3,181.39 359.0,181.14 359.7,182.21 360.5,182.12 361.2,181.47 361.9,182.18 362.6,182.08 363.3,181.47 364.1,181.83 364.8,182.26 365.5,181.70 366.2,182.25 366.9,181.40 367.6,181.58 368.4,181.97 369.1,181.38 369.8,181.48 370.5,182.16 371.2,181.69 372.0,182.06 372.7,181.40 373.4,181.32 374.1,181.54 374.8,181.33 375.6,182.27 376.3,181.45 377.0,181.78 377.7,181.24 378.4,181.74 379.1,181.55 379.9,181.57 380.6,181.16 381.3,181.22 382.0,182.05 382.7,181.47 383.5,181.33 384.2,181.24 384.9,181.33 385.6,181.25 386.3,180.97 387.1,181.68 387.8,181.24 388.5,180.94 389.2,181.50 389.9,180.62 390.6,180.64 391.4,181.02 392.1,179.72 392.8,179.37 393.5,178.61 394.2,176.54 395.0,173.15 395.7,172.40 396.4,174.87 397.1,176.96 397.8,179.34 398.6,179.44 399.3,180.94 400.0,180.79 400.7,180.71 401.4,181.15 402.2,180.90 402.9,181.68 403.6,181.22 404.3,182.04 405.0,181.71 405.7,181.49 406.5,181.37 407.2,181.83 407.9,181.38 408.6,182.19 409.3,181.30 410.1,181.79 410.8,181.83 411.5,181.52 412.2,182.13 412.9,181.67 413.7,182.01 414.4,181.91 415.1,181.61 415.8,181.71 416.5,181.35 417.2,181.47 418.0,182.28 418.7,181.65 419.4,182.07 420.1,181.41 420.8,181.95 421.6,181.72 422.3,181.89 423.0,181.65 423.7,181.38 424.4,181.67 425.2,181.58 425.9,181.46 426.6,182.17 427.3,181.65 428.0,181.80 428.7,182.41 429.5,182.25 430.2,182.39 430.9,182.36 431.6,181.49 432.3,181.67 433.1,181.38 433.8,182.16 434.5,182.14 435.2,181.77 435.9,181.85 436.7,182.15 437.4,182.20 438.1,181.66 438.8,182.38 439.5,181.79 440.2,182.12 441.0,181.59 441.7,181.51 442.4,182.47 443.1,182.26 443.8,182.24 444.6,181.43 445.3,181.43 446.0,181.58" fill="none" stroke="#7c8ae0" stroke-width="0.85" opacity="1.0"/>
<path d="M259.1,187.92 259.8,188.12 260.5,188.26 261.3,187.57 262.0,188.10 262.7,188.74 263.4,187.80 264.1,189.11 264.9,188.55 265.6,188.83 266.3,187.89 267.0,188.23 267.7,188.71 268.4,188.02 269.2,187.30 269.9,188.95 270.6,188.81 271.3,187.81 272.0,187.30 272.8,188.90 273.5,188.38 274.2,187.23 274.9,187.60 275.6,187.30 276.4,188.63 277.1,187.44 277.8,188.81 278.5,188.45 279.2,187.09 279.9,188.27 280.7,187.63 281.4,188.30 282.1,188.42 282.8,187.28 283.5,186.85 284.3,188.52 285.0,187.43 285.7,188.39 286.4,187.86 287.1,187.90 287.9,188.03 288.6,187.57 289.3,187.16 290.0,186.31 290.7,187.53 291.4,186.93 292.2,187.03 292.9,187.80 293.6,186.13 294.3,187.33 295.0,185.82 295.8,187.07 296.5,187.20 297.2,186.04 297.9,186.54 298.6,187.31 299.4,186.57 300.1,186.31 300.8,185.64 301.5,185.19 302.2,185.72 302.9,185.76 303.7,185.27 304.4,185.42 305.1,185.02 305.8,186.10 306.5,185.97 307.3,185.06 308.0,185.03 308.7,185.54 309.4,185.37 310.1,186.33 310.9,185.14 311.6,185.03 312.3,186.20 313.0,184.72 313.7,185.57 314.5,185.13 315.2,186.12 315.9,185.62 316.6,186.08 317.3,184.94 318.0,185.99 318.8,185.91 319.5,185.69 320.2,186.37 320.9,186.56 321.6,185.20 322.4,185.62 323.1,185.84 323.8,185.61 324.5,185.40 325.2,185.92 326.0,185.83 326.7,186.92 327.4,186.50 328.1,185.91 328.8,186.41 329.5,186.78 330.3,186.64 331.0,186.33 331.7,186.21 332.4,186.16 333.1,188.20 333.9,187.79 334.6,186.52 335.3,187.85 336.0,188.45 336.7,187.68 337.5,186.83 338.2,187.65 338.9,187.60 339.6,187.16 340.3,187.92 341.0,186.91 341.8,188.78 342.5,188.28 343.2,188.29 343.9,188.96 344.6,188.44 345.4,187.68 346.1,187.71 346.8,187.53 347.5,187.35 348.2,188.88 349.0,189.05 349.7,188.00 350.4,187.81 351.1,188.75 351.8,189.20 352.6,189.39 353.3,187.91 354.0,189.17 354.7,189.29 355.4,189.14 356.1,188.34 356.9,188.08 357.6,189.38 358.3,188.40 359.0,188.52 359.7,188.91 360.5,188.57 361.2,189.51 361.9,188.35 362.6,187.97 363.3,189.05 364.1,189.19 364.8,189.59 365.5,189.38 366.2,189.80 366.9,189.89 367.6,189.01 368.4,189.04 369.1,188.37 369.8,188.67 370.5,189.25 371.2,188.26 372.0,189.49 372.7,188.45 373.4,189.03 374.1,190.09 374.8,188.35 375.6,188.26 376.3,189.07 377.0,188.59 377.7,189.66 378.4,188.23 379.1,189.92 379.9,189.96 380.6,189.83 381.3,189.12 382.0,188.84 382.7,189.61 383.5,189.32 384.2,189.14 384.9,188.98 385.6,189.19 386.3,189.64 387.1,189.97 387.8,190.12 388.5,188.64 389.2,188.89 389.9,189.17 390.6,189.39 391.4,188.92 392.1,188.56 392.8,188.24 393.5,188.58 394.2,188.67 395.0,189.50 395.7,189.32 396.4,189.38 397.1,189.81 397.8,189.97 398.6,189.42 399.3,189.90 400.0,188.46 400.7,189.74 401.4,189.64 402.2,189.05 402.9,189.62 403.6,190.40 404.3,189.47 405.0,189.82 405.7,189.14 406.5,189.24 407.2,190.33 407.9,188.63 408.6,188.96 409.3,189.95 410.1,189.49 410.8,188.78 411.5,189.93 412.2,189.36 412.9,189.79 413.7,189.47 414.4,189.70 415.1,189.78 415.8,189.45 416.5,188.89 417.2,189.03 418.0,190.45 418.7,189.78 419.4,188.91 420.1,190.42 420.8,189.20 421.6,188.89 422.3,189.77 423.0,189.22 423.7,189.70 424.4,189.83 425.2,189.18 425.9,189.88 426.6,188.97 427.3,189.77 428.0,189.93 428.7,188.92 429.5,189.58 430.2,188.92 430.9,189.65 431.6,190.51 432.3,189.88 433.1,190.22 433.8,190.31 434.5,189.03 435.2,190.78 435.9,190.25 436.7,189.02 437.4,190.48 438.1,189.61 438.8,189.17 439.5,190.75 440.2,189.96 441.0,190.39 441.7,189.12 442.4,190.40 443.1,188.97 443.8,189.33 444.6,189.61 445.3,188.90 446.0,190.06" fill="none" stroke="#aab4ec" stroke-width="0.85" opacity="1.0"/>
<path d="M259.1,198.94 259.8,199.09 260.5,199.81 261.3,199.30 262.0,200.13 262.7,199.64 263.4,200.08 264.1,199.52 264.9,200.15 265.6,200.05 266.3,198.78 267.0,199.81 267.7,199.07 268.4,199.82 269.2,199.66 269.9,199.91 270.6,198.64 271.3,199.08 272.0,199.72 272.8,200.09 273.5,199.67 274.2,198.43 274.9,199.43 275.6,198.51 276.4,199.30 277.1,199.74 277.8,198.48 278.5,199.93 279.2,199.46 279.9,198.69 280.7,198.56 281.4,198.99 282.1,199.68 282.8,199.19 283.5,198.33 284.3,198.14 285.0,198.28 285.7,199.49 286.4,198.36 287.1,199.00 287.9,198.49 288.6,199.18 289.3,198.60 290.0,198.14 290.7,199.42 291.4,198.78 292.2,199.02 292.9,199.19 293.6,199.41 294.3,197.68 295.0,198.23 295.8,197.84 296.5,198.43 297.2,199.05 297.9,198.87 298.6,197.44 299.4,197.65 300.1,198.74 300.8,198.44 301.5,197.86 302.2,197.95 302.9,197.32 303.7,198.49 304.4,197.62 305.1,198.41 305.8,197.88 306.5,196.84 307.3,197.23 308.0,196.96 308.7,198.11 309.4,197.49 310.1,196.44 310.9,196.60 311.6,196.88 312.3,197.01 313.0,197.15 313.7,196.75 314.5,196.63 315.2,195.96 315.9,196.94 316.6,196.46 317.3,195.87 318.0,196.63 318.8,197.56 319.5,195.85 320.2,196.03 320.9,196.97 321.6,196.26 322.4,196.28 323.1,196.71 323.8,196.31 324.5,196.90 325.2,196.87 326.0,197.69 326.7,197.80 327.4,196.13 328.1,197.14 328.8,197.58 329.5,197.83 330.3,197.72 331.0,197.53 331.7,197.61 332.4,197.19 333.1,197.11 333.9,198.11 334.6,198.32 335.3,198.51 336.0,198.11 336.7,197.50 337.5,198.39 338.2,198.41 338.9,198.06 339.6,198.35 340.3,197.89 341.0,198.31 341.8,198.11 342.5,197.54 343.2,198.09 343.9,198.12 344.6,199.36 345.4,198.50 346.1,198.33 346.8,198.16 347.5,198.18 348.2,198.43 349.0,198.08 349.7,197.89 350.4,199.48 351.1,198.76 351.8,198.78 352.6,199.03 353.3,198.58 354.0,198.37 354.7,198.22 355.4,198.67 356.1,198.71 356.9,199.48 357.6,199.19 358.3,199.91 359.0,198.86 359.7,199.93 360.5,199.34 361.2,198.45 361.9,198.65 362.6,199.39 363.3,200.14 364.1,199.02 364.8,199.79 365.5,199.19 366.2,199.99 366.9,198.57 367.6,199.33 368.4,200.09 369.1,198.98 369.8,198.96 370.5,198.55 371.2,198.82 372.0,199.02 372.7,199.81 373.4,198.95 374.1,199.28 374.8,198.93 375.6,199.67 376.3,200.15 377.0,199.76 377.7,198.96 378.4,199.93 379.1,200.35 379.9,199.70 380.6,198.77 381.3,200.09 382.0,200.21 382.7,199.25 383.5,198.88 384.2,198.98 384.9,199.60 385.6,200.21 386.3,199.77 387.1,200.27 387.8,198.98 388.5,199.16 389.2,199.89 389.9,199.67 390.6,199.17 391.4,199.57 392.1,198.83 392.8,198.15 393.5,198.53 394.2,197.56 395.0,198.32 395.7,197.71 396.4,198.19 397.1,198.70 397.8,198.39 398.6,199.00 399.3,198.36 400.0,200.12 400.7,199.55 401.4,200.38 402.2,198.75 402.9,199.79 403.6,200.02 404.3,199.33 405.0,198.93 405.7,199.06 406.5,199.05 407.2,200.19 407.9,198.98 408.6,200.29 409.3,199.60 410.1,199.81 410.8,199.91 411.5,199.86 412.2,200.05 412.9,199.95 413.7,199.47 414.4,200.22 415.1,199.35 415.8,200.17 416.5,200.27 417.2,200.30 418.0,199.46 418.7,200.30 419.4,200.67 420.1,199.73 420.8,199.42 421.6,199.86 422.3,200.62 423.0,199.17 423.7,198.95 424.4,199.79 425.2,200.12 425.9,200.33 426.6,199.60 427.3,200.73 428.0,199.36 428.7,200.31 429.5,199.12 430.2,199.01 430.9,199.20 431.6,199.07 432.3,199.87 433.1,199.97 433.8,199.30 434.5,200.66 435.2,199.63 435.9,199.25 436.7,199.30 437.4,200.31 438.1,200.64 438.8,199.28 439.5,199.04 440.2,200.39 441.0,199.43 441.7,200.76 442.4,199.89 443.1,200.14 443.8,199.62 444.6,200.44 445.3,199.83 446.0,199.59" fill="none" stroke="#c0c0c4" stroke-width="0.85" opacity="1.0"/>
<path d="M259.1,211.14 259.8,210.66 260.5,211.04 261.3,210.64 262.0,210.99 262.7,210.84 263.4,211.12 264.1,210.64 264.9,210.94 265.6,210.85 266.3,211.15 267.0,211.17 267.7,210.98 268.4,210.73 269.2,210.75 269.9,210.76 270.6,210.86 271.3,210.74 272.0,210.72 272.8,211.06 273.5,210.99 274.2,210.78 274.9,211.20 275.6,210.73 276.4,210.94 277.1,210.69 277.8,211.12 278.5,211.12 279.2,210.76 279.9,211.05 280.7,211.09 281.4,210.77 282.1,210.80 282.8,210.89 283.5,211.13 284.3,210.70 285.0,211.01 285.7,210.96 286.4,210.87 287.1,210.95 287.9,211.13 288.6,210.73 289.3,211.13 290.0,210.82 290.7,211.07 291.4,211.12 292.2,210.71 292.9,211.12 293.6,211.20 294.3,210.78 295.0,210.61 295.8,210.67 296.5,211.18 297.2,210.61 297.9,211.15 298.6,210.69 299.4,211.04 300.1,210.66 300.8,210.70 301.5,211.01 302.2,210.65 302.9,210.80 303.7,211.15 304.4,211.03 305.1,211.13 305.8,211.19 306.5,210.62 307.3,210.74 308.0,211.08 308.7,211.01 309.4,210.62 310.1,210.90 310.9,210.74 311.6,210.86 312.3,210.66 313.0,210.61 313.7,211.19 314.5,210.79 315.2,211.13 315.9,210.67 316.6,210.89 317.3,210.68 318.0,210.86 318.8,210.71 319.5,211.01 320.2,210.69 320.9,211.04 321.6,210.90 322.4,210.67 323.1,210.81 323.8,210.90 324.5,211.15 325.2,210.81 326.0,210.73 326.7,211.18 327.4,211.13 328.1,211.04 328.8,210.76 329.5,210.71 330.3,210.76 331.0,210.64 331.7,210.63 332.4,210.91 333.1,210.84 333.9,210.93 334.6,210.82 335.3,210.61 336.0,211.01 336.7,210.99 337.5,210.93 338.2,210.93 338.9,211.01 339.6,211.19 340.3,211.12 341.0,211.03 341.8,210.84 342.5,210.79 343.2,210.85 343.9,211.18 344.6,210.83 345.4,210.83 346.1,210.85 346.8,210.69 347.5,211.20 348.2,210.60 349.0,210.96 349.7,211.16 350.4,210.75 351.1,210.97 351.8,210.83 352.6,210.74 353.3,210.72 354.0,210.67 354.7,211.11 355.4,211.07 356.1,211.15 356.9,210.63 357.6,211.02 358.3,210.79 359.0,210.99 359.7,210.93 360.5,210.79 361.2,211.18 361.9,210.60 362.6,211.05 363.3,211.11 364.1,210.91 364.8,210.96 365.5,211.20 366.2,210.74 366.9,210.98 367.6,211.05 368.4,210.83 369.1,211.03 369.8,210.84 370.5,210.92 371.2,210.97 372.0,211.01 372.7,210.79 373.4,210.98 374.1,210.93 374.8,210.73 375.6,210.97 376.3,210.76 377.0,211.15 377.7,210.88 378.4,211.03 379.1,210.91 379.9,210.89 380.6,210.73 381.3,210.69 382.0,211.16 382.7,210.92 383.5,210.91 384.2,210.92 384.9,211.09 385.6,210.74 386.3,210.70 387.1,211.09 387.8,210.88 388.5,210.98 389.2,211.10 389.9,211.14 390.6,211.12 391.4,210.63 392.1,210.83 392.8,211.10 393.5,211.09 394.2,210.67 395.0,210.69 395.7,210.75 396.4,210.66 397.1,210.81 397.8,211.08 398.6,210.91 399.3,210.87 400.0,210.65 400.7,210.84 401.4,211.20 402.2,211.02 402.9,210.87 403.6,210.89 404.3,211.08 405.0,211.06 405.7,210.69 406.5,211.01 407.2,210.82 407.9,210.91 408.6,210.74 409.3,210.82 410.1,210.80 410.8,210.83 411.5,210.61 412.2,210.72 412.9,210.94 413.7,210.63 414.4,210.71 415.1,211.03 415.8,210.76 416.5,210.79 417.2,210.75 418.0,211.10 418.7,210.65 419.4,210.98 420.1,211.12 420.8,210.72 421.6,210.85 422.3,211.08 423.0,210.97 423.7,210.82 424.4,210.63 425.2,210.87 425.9,210.82 426.6,211.03 427.3,210.78 428.0,210.84 428.7,210.99 429.5,211.09 430.2,210.81 430.9,210.83 431.6,210.95 432.3,211.15 433.1,210.71 433.8,211.18 434.5,211.03 435.2,210.82 435.9,211.00 436.7,210.80 437.4,210.64 438.1,211.05 438.8,210.83 439.5,210.92 440.2,210.90 441.0,211.14 441.7,211.05 442.4,210.62 443.1,210.96 443.8,210.88 444.6,210.88 445.3,211.10 446.0,210.85" fill="none" stroke="#5a5a5a" stroke-width="0.7" opacity="1.0"/>
<path d="M259.1,220.48 259.8,220.73 260.5,220.46 261.3,220.49 262.0,220.51 262.7,220.69 263.4,220.60 264.1,220.64 264.9,220.44 265.6,220.22 266.3,220.61 267.0,220.53 267.7,220.66 268.4,220.66 269.2,220.27 269.9,220.33 270.6,220.25 271.3,220.69 272.0,220.26 272.8,220.25 273.5,220.65 274.2,220.54 274.9,220.23 275.6,220.61 276.4,220.63 277.1,220.49 277.8,220.23 278.5,220.61 279.2,220.45 279.9,220.55 280.7,220.80 281.4,220.69 282.1,220.72 282.8,220.29 283.5,220.40 284.3,220.51 285.0,220.20 285.7,220.79 286.4,220.36 287.1,220.36 287.9,220.39 288.6,220.35 289.3,220.72 290.0,220.53 290.7,220.51 291.4,220.45 292.2,220.23 292.9,220.38 293.6,220.72 294.3,220.68 295.0,220.71 295.8,220.35 296.5,220.32 297.2,220.23 297.9,220.52 298.6,220.42 299.4,220.48 300.1,220.49 300.8,220.55 301.5,220.42 302.2,220.68 302.9,220.32 303.7,220.75 304.4,220.53 305.1,220.23 305.8,220.39 306.5,220.52 307.3,220.45 308.0,220.54 308.7,220.39 309.4,220.36 310.1,220.68 310.9,220.37 311.6,220.63 312.3,220.68 313.0,220.56 313.7,220.47 314.5,220.76 315.2,220.47 315.9,220.73 316.6,220.23 317.3,220.46 318.0,220.58 318.8,220.23 319.5,220.72 320.2,220.24 320.9,220.56 321.6,220.31 322.4,220.75 323.1,220.54 323.8,220.68 324.5,220.50 325.2,220.60 326.0,220.60 326.7,220.38 327.4,220.33 328.1,220.70 328.8,220.29 329.5,220.75 330.3,220.32 331.0,220.26 331.7,220.26 332.4,220.67 333.1,220.77 333.9,220.45 334.6,220.60 335.3,220.35 336.0,220.74 336.7,220.61 337.5,220.29 338.2,220.23 338.9,220.62 339.6,220.23 340.3,220.70 341.0,220.38 341.8,220.34 342.5,220.55 343.2,220.39 343.9,220.54 344.6,220.29 345.4,220.75 346.1,220.39 346.8,220.70 347.5,220.29 348.2,220.68 349.0,220.79 349.7,220.43 350.4,220.22 351.1,220.43 351.8,220.58 352.6,220.33 353.3,220.53 354.0,220.26 354.7,220.48 355.4,220.64 356.1,220.46 356.9,220.61 357.6,220.27 358.3,220.70 359.0,220.27 359.7,220.75 360.5,220.80 361.2,220.76 361.9,220.52 362.6,220.37 363.3,220.41 364.1,220.65 364.8,220.50 365.5,220.76 366.2,220.26 366.9,220.49 367.6,220.72 368.4,220.56 369.1,220.52 369.8,220.25 370.5,220.28 371.2,220.36 372.0,220.74 372.7,220.71 373.4,220.34 374.1,220.75 374.8,220.22 375.6,220.56 376.3,220.78 377.0,220.41 377.7,220.77 378.4,220.59 379.1,220.23 379.9,220.40 380.6,220.47 381.3,220.35 382.0,220.65 382.7,220.31 383.5,220.67 384.2,220.38 384.9,220.24 385.6,220.54 386.3,220.26 387.1,220.53 387.8,220.67 388.5,220.56 389.2,220.48 389.9,220.22 390.6,220.51 391.4,220.26 392.1,220.59 392.8,220.28 393.5,220.55 394.2,220.41 395.0,220.42 395.7,220.60 396.4,220.30 397.1,220.30 397.8,220.76 398.6,220.40 399.3,220.71 400.0,220.72 400.7,220.49 401.4,220.29 402.2,220.26 402.9,220.73 403.6,220.27 404.3,220.50 405.0,220.52 405.7,220.27 406.5,220.48 407.2,220.30 407.9,220.52 408.6,220.50 409.3,220.42 410.1,220.32 410.8,220.44 411.5,220.32 412.2,220.28 412.9,220.34 413.7,220.72 414.4,220.50 415.1,220.73 415.8,220.21 416.5,220.77 417.2,220.49 418.0,220.67 418.7,220.54 419.4,220.61 420.1,220.34 420.8,220.65 421.6,220.29 422.3,220.36 423.0,220.22 423.7,220.44 424.4,220.51 425.2,220.38 425.9,220.73 426.6,220.25 427.3,220.55 428.0,220.34 428.7,220.56 429.5,220.67 430.2,220.63 430.9,220.24 431.6,220.35 432.3,220.56 433.1,220.79 433.8,220.22 434.5,220.57 435.2,220.62 435.9,220.69 436.7,220.41 437.4,220.69 438.1,220.48 438.8,220.75 439.5,220.21 440.2,220.76 441.0,220.45 441.7,220.44 442.4,220.25 443.1,220.35 443.8,220.64 444.6,220.61 445.3,220.29 446.0,220.41" fill="none" stroke="#4a4a4a" stroke-width="0.7" opacity="1.0"/>
<line x1="258.5" y1="231.8" x2="446.5" y2="231.8" stroke="#222" stroke-width="1.1"/>
<line x1="259.1" y1="232" x2="259.1" y2="233.0" stroke="#222" stroke-width="0.8"/>
<line x1="285.8" y1="232" x2="285.8" y2="233.6" stroke="#222" stroke-width="0.8"/>
<line x1="312.5" y1="232" x2="312.5" y2="233.0" stroke="#222" stroke-width="0.8"/>
<line x1="339.2" y1="232" x2="339.2" y2="233.6" stroke="#222" stroke-width="0.8"/>
<line x1="365.9" y1="232" x2="365.9" y2="233.0" stroke="#222" stroke-width="0.8"/>
<line x1="392.6" y1="232" x2="392.6" y2="233.6" stroke="#222" stroke-width="0.8"/>
<line x1="419.3" y1="232" x2="419.3" y2="233.0" stroke="#222" stroke-width="0.8"/>
<line x1="446.0" y1="232" x2="446.0" y2="233.6" stroke="#222" stroke-width="0.8"/>
<text x="285.8" y="240.2" font-size="6.6" font-weight="bold" text-anchor="middle" fill="#111" font-family="Liberation Sans, sans-serif">1200</text>
<text x="339.2" y="240.2" font-size="6.6" font-weight="bold" text-anchor="middle" fill="#111" font-family="Liberation Sans, sans-serif">1400</text>
<text x="392.6" y="240.2" font-size="6.6" font-weight="bold" text-anchor="middle" fill="#111" font-family="Liberation Sans, sans-serif">1600</text>
<text x="446.0" y="240.2" font-size="6.6" font-weight="bold" text-anchor="middle" fill="#111" font-family="Liberation Sans, sans-serif">1800</text>
<text x="352" y="253" font-size="7.6" font-weight="bold" text-anchor="middle" fill="#111" font-family="Liberation Sans, sans-serif">Raman shift (cm<tspan font-size="4.5" dy="-3">-1</tspan><tspan dy="3">)</tspan></text>
<line x1="250.5" y1="24" x2="250.5" y2="37.5" stroke="#222" stroke-width="0.9"/>
<line x1="249.5" y1="24" x2="251.5" y2="24" stroke="#222" stroke-width="0.8"/>
<line x1="249.5" y1="37.5" x2="251.5" y2="37.5" stroke="#222" stroke-width="0.8"/>
<text transform="translate(256.8,31.4) rotate(-90)" font-size="6.0" font-weight="bold" text-anchor="middle" fill="#111" font-family="Liberation Sans, sans-serif">300</text>
<text x="235.2" y="23.8" font-size="16.3" font-weight="bold" fill="#000" font-family="Liberation Sans, sans-serif">b</text>
<text x="286.6" y="49.6" font-size="6.5" font-weight="bold" fill="#111" font-family="Liberation Sans, sans-serif">1192</text>
<text x="326.3" y="45.1" font-size="6.5" font-weight="bold" fill="#111" font-family="Liberation Sans, sans-serif">1338</text>
<text x="400" y="31" font-size="6.5" font-weight="bold" fill="#111" font-family="Liberation Sans, sans-serif">1611</text>
<text x="446.3" y="45.6" font-size="7.8" font-weight="bold" text-anchor="end" fill="#e0203c" font-family="Liberation Sans, sans-serif">Laser on</text>
<text x="445.4" y="73.8" font-size="7.8" font-weight="bold" text-anchor="end" fill="#3c3cee" font-family="Liberation Sans, sans-serif">Laser off</text>
<text x="452.4" y="23.6" font-size="7.8" font-weight="bold" fill="#000" font-family="Liberation Sans, sans-serif">0 min</text>
<text x="452" y="42" font-size="8" font-weight="bold" fill="#e0203c" font-family="Liberation Sans, sans-serif">3 min</text>
<text x="452.3" y="148" font-size="7.6" font-weight="bold" fill="#3c3cee" font-family="Liberation Sans, sans-serif">33 min</text>
<line x1="450" y1="23" x2="450" y2="56" stroke="#e0203c" stroke-width="0.9"/>
<path d="M448.4,55.5 L450,59.5 L451.6,55.5 Z" fill="#e0203c"/>
<line x1="449.5" y1="64" x2="449.5" y2="219" stroke="#5050ee" stroke-width="1.2"/>
<path d="M447.7,218.5 L449.5,223.5 L451.3,218.5 Z" fill="#5050ee"/>
<rect x="523" y="19.3" width="16.4" height="210.5" fill="#ffb1b0"/>
<rect x="539.4" y="21" width="145.4" height="208.8" fill="#f2f2f2"/>
<line x1="684.8" y1="21" x2="684.8" y2="230" stroke="#d8d8d8" stroke-width="0.6"/>
<line x1="539.4" y1="20" x2="539.4" y2="230" stroke="#555" stroke-width="0.6" stroke-dasharray="1.2,1.2"/>
<line x1="522.4" y1="19" x2="522.4" y2="231" stroke="#222" stroke-width="1"/>
<line x1="522" y1="230.6" x2="690.5" y2="230.6" stroke="#222" stroke-width="1"/>
<line x1="520.8" y1="220.5" x2="522.4" y2="220.5" stroke="#222" stroke-width="0.7"/>
<line x1="521.4" y1="200.5" x2="522.4" y2="200.5" stroke="#222" stroke-width="0.7"/>
<line x1="520.8" y1="180.5" x2="522.4" y2="180.5" stroke="#222" stroke-width="0.7"/>
<line x1="521.4" y1="160.5" x2="522.4" y2="160.5" stroke="#222" stroke-width="0.7"/>
<line x1="520.8" y1="140.5" x2="522.4" y2="140.5" stroke="#222" stroke-width="0.7"/>
<line x1="521.4" y1="120.5" x2="522.4" y2="120.5" stroke="#222" stroke-width="0.7"/>
<line x1="520.8" y1="100.5" x2="522.4" y2="100.5" stroke="#222" stroke-width="0.7"/>
<line x1="521.4" y1="80.5" x2="522.4" y2="80.5" stroke="#222" stroke-width="0.7"/>
<line x1="520.8" y1="60.5" x2="522.4" y2="60.5" stroke="#222" stroke-width="0.7"/>
<line x1="521.4" y1="40.5" x2="522.4" y2="40.5" stroke="#222" stroke-width="0.7"/>
<line x1="520.8" y1="20.5" x2="522.4" y2="20.5" stroke="#222" stroke-width="0.7"/>
<text x="519.3" y="222.2" font-size="6.4" font-weight="bold" text-anchor="end" fill="#111" font-family="Liberation Sans, sans-serif">0</text>
<text x="519.3" y="182.2" font-size="6.4" font-weight="bold" text-anchor="end" fill="#111" font-family="Liberation Sans, sans-serif">200</text>
<text x="519.3" y="142.2" font-size="6.4" font-weight="bold" text-anchor="end" fill="#111" font-family="Liberation Sans, sans-serif">400</text>
<text x="519.3" y="102.2" font-size="6.4" font-weight="bold" text-anchor="end" fill="#111" font-family="Liberation Sans, sans-serif">600</text>
<text x="519.3" y="62.2" font-size="6.4" font-weight="bold" text-anchor="end" fill="#111" font-family="Liberation Sans, sans-serif">800</text>
<text x="519.3" y="22.2" font-size="6.4" font-weight="bold" text-anchor="end" fill="#111" font-family="Liberation Sans, sans-serif">1000</text>
<line x1="526.2" y1="230.6" x2="526.2" y2="232.6" stroke="#222" stroke-width="0.7"/>
<text x="526.2" y="239.3" font-size="6.6" font-weight="bold" text-anchor="middle" fill="#111" font-family="Liberation Sans, sans-serif">-3</text>
<line x1="539.4" y1="230.6" x2="539.4" y2="232.6" stroke="#222" stroke-width="0.7"/>
<text x="539.4" y="239.3" font-size="6.6" font-weight="bold" text-anchor="middle" fill="#111" font-family="Liberation Sans, sans-serif">0</text>
<line x1="552.6" y1="230.6" x2="552.6" y2="232.6" stroke="#222" stroke-width="0.7"/>
<text x="552.6" y="239.3" font-size="6.6" font-weight="bold" text-anchor="middle" fill="#111" font-family="Liberation Sans, sans-serif">3</text>
<line x1="565.8" y1="230.6" x2="565.8" y2="232.6" stroke="#222" stroke-width="0.7"/>
<text x="565.8" y="239.3" font-size="6.6" font-weight="bold" text-anchor="middle" fill="#111" font-family="Liberation Sans, sans-serif">6</text>
<line x1="579.0" y1="230.6" x2="579.0" y2="232.6" stroke="#222" stroke-width="0.7"/>
<text x="579.0" y="239.3" font-size="6.6" font-weight="bold" text-anchor="middle" fill="#111" font-family="Liberation Sans, sans-serif">9</text>
<line x1="592.2" y1="230.6" x2="592.2" y2="232.6" stroke="#222" stroke-width="0.7"/>
<text x="592.2" y="239.3" font-size="6.6" font-weight="bold" text-anchor="middle" fill="#111" font-family="Liberation Sans, sans-serif">12</text>
<line x1="605.4" y1="230.6" x2="605.4" y2="232.6" stroke="#222" stroke-width="0.7"/>
<text x="605.4" y="239.3" font-size="6.6" font-weight="bold" text-anchor="middle" fill="#111" font-family="Liberation Sans, sans-serif">15</text>
<line x1="618.6" y1="230.6" x2="618.6" y2="232.6" stroke="#222" stroke-width="0.7"/>
<text x="618.6" y="239.3" font-size="6.6" font-weight="bold" text-anchor="middle" fill="#111" font-family="Liberation Sans, sans-serif">18</text>
<line x1="631.8" y1="230.6" x2="631.8" y2="232.6" stroke="#222" stroke-width="0.7"/>
<text x="631.8" y="239.3" font-size="6.6" font-weight="bold" text-anchor="middle" fill="#111" font-family="Liberation Sans, sans-serif">21</text>
<line x1="645.0" y1="230.6" x2="645.0" y2="232.6" stroke="#222" stroke-width="0.7"/>
<text x="645.0" y="239.3" font-size="6.6" font-weight="bold" text-anchor="middle" fill="#111" font-family="Liberation Sans, sans-serif">24</text>
<line x1="658.2" y1="230.6" x2="658.2" y2="232.6" stroke="#222" stroke-width="0.7"/>
<text x="658.2" y="239.3" font-size="6.6" font-weight="bold" text-anchor="middle" fill="#111" font-family="Liberation Sans, sans-serif">27</text>
<line x1="671.4" y1="230.6" x2="671.4" y2="232.6" stroke="#222" stroke-width="0.7"/>
<text x="671.4" y="239.3" font-size="6.6" font-weight="bold" text-anchor="middle" fill="#111" font-family="Liberation Sans, sans-serif">30</text>
<line x1="684.6" y1="230.6" x2="684.6" y2="232.6" stroke="#222" stroke-width="0.7"/>
<text x="684.6" y="239.3" font-size="6.6" font-weight="bold" text-anchor="middle" fill="#111" font-family="Liberation Sans, sans-serif">33</text>
<text x="606" y="249.8" font-size="7.6" font-weight="bold" text-anchor="middle" fill="#111" font-family="Liberation Sans, sans-serif">Time (min)</text>
<text transform="translate(495.6,117) rotate(-90)" font-size="7" font-weight="bold" text-anchor="middle" fill="#111" font-family="Liberation Sans, sans-serif">Raman intensity (a.u.)</text>
<text x="488" y="24.5" font-size="16" font-weight="bold" fill="#000" font-family="Liberation Sans, sans-serif">c</text>
<text x="520.8" y="8.2" font-size="7.3" font-weight="bold" fill="#e0203c" font-family="Liberation Sans, sans-serif">Laser on</text>
<text x="556.7" y="8.2" font-size="7.3" font-weight="bold" fill="#3c3cee" font-family="Liberation Sans, sans-serif">Laser off</text>
<path d="M526.2,220.5 539.4,140.5 552.6,155.3 565.8,157.9 579.0,170.5 592.2,193.1 605.4,195.9 618.6,203.5 631.8,204.9 645.0,208.1 658.2,208.9 671.4,214.5 684.6,217.1" fill="none" stroke="#7a7a7a" stroke-width="1.1"/>
<rect x="525.3" y="219.6" width="1.8" height="1.8" fill="#7a7a7a"/>
<rect x="538.5" y="139.6" width="1.8" height="1.8" fill="#7a7a7a"/>
<rect x="551.7" y="154.4" width="1.8" height="1.8" fill="#7a7a7a"/>
<rect x="564.9" y="157.0" width="1.8" height="1.8" fill="#7a7a7a"/>
<rect x="578.1" y="169.6" width="1.8" height="1.8" fill="#7a7a7a"/>
<rect x="591.3" y="192.2" width="1.8" height="1.8" fill="#7a7a7a"/>
<rect x="604.5" y="195.0" width="1.8" height="1.8" fill="#7a7a7a"/>
<rect x="617.7" y="202.6" width="1.8" height="1.8" fill="#7a7a7a"/>
<rect x="630.9" y="204.0" width="1.8" height="1.8" fill="#7a7a7a"/>
<rect x="644.1" y="207.2" width="1.8" height="1.8" fill="#7a7a7a"/>
<rect x="657.3" y="208.0" width="1.8" height="1.8" fill="#7a7a7a"/>
<rect x="670.5" y="213.6" width="1.8" height="1.8" fill="#7a7a7a"/>
<rect x="683.7" y="216.2" width="1.8" height="1.8" fill="#7a7a7a"/>
<path d="M526.2,220.5 539.4,105.1 552.6,109.3 565.8,127.3 579.0,148.9 592.2,151.3 605.4,157.9 618.6,173.3 631.8,177.5 645.0,181.9 658.2,191.3 671.4,206.3 684.6,211.7" fill="none" stroke="#ee8c2c" stroke-width="1.1"/>
<rect x="525.3" y="219.6" width="1.8" height="1.8" fill="#ee8c2c"/>
<rect x="538.5" y="104.2" width="1.8" height="1.8" fill="#ee8c2c"/>
<rect x="551.7" y="108.4" width="1.8" height="1.8" fill="#ee8c2c"/>
<rect x="564.9" y="126.4" width="1.8" height="1.8" fill="#ee8c2c"/>
<rect x="578.1" y="148.0" width="1.8" height="1.8" fill="#ee8c2c"/>
<rect x="591.3" y="150.4" width="1.8" height="1.8" fill="#ee8c2c"/>
<rect x="604.5" y="157.0" width="1.8" height="1.8" fill="#ee8c2c"/>
<rect x="617.7" y="172.4" width="1.8" height="1.8" fill="#ee8c2c"/>
<rect x="630.9" y="176.6" width="1.8" height="1.8" fill="#ee8c2c"/>
<rect x="644.1" y="181.0" width="1.8" height="1.8" fill="#ee8c2c"/>
<rect x="657.3" y="190.4" width="1.8" height="1.8" fill="#ee8c2c"/>
<rect x="670.5" y="205.4" width="1.8" height="1.8" fill="#ee8c2c"/>
<rect x="683.7" y="210.8" width="1.8" height="1.8" fill="#ee8c2c"/>
<path d="M526.2,220.5 539.4,37.3 552.6,54.3 565.8,64.1 579.0,114.7 592.2,126.5 605.4,133.7 618.6,135.1 631.8,161.3 645.0,185.5 658.2,190.1 671.4,193.7 684.6,210.5" fill="none" stroke="#23908c" stroke-width="1.1"/>
<rect x="525.3" y="219.6" width="1.8" height="1.8" fill="#23908c"/>
<rect x="538.5" y="36.4" width="1.8" height="1.8" fill="#23908c"/>
<rect x="551.7" y="53.4" width="1.8" height="1.8" fill="#23908c"/>
<rect x="564.9" y="63.2" width="1.8" height="1.8" fill="#23908c"/>
<rect x="578.1" y="113.8" width="1.8" height="1.8" fill="#23908c"/>
<rect x="591.3" y="125.6" width="1.8" height="1.8" fill="#23908c"/>
<rect x="604.5" y="132.8" width="1.8" height="1.8" fill="#23908c"/>
<rect x="617.7" y="134.2" width="1.8" height="1.8" fill="#23908c"/>
<rect x="630.9" y="160.4" width="1.8" height="1.8" fill="#23908c"/>
<rect x="644.1" y="184.6" width="1.8" height="1.8" fill="#23908c"/>
<rect x="657.3" y="189.2" width="1.8" height="1.8" fill="#23908c"/>
<rect x="670.5" y="192.8" width="1.8" height="1.8" fill="#23908c"/>
<rect x="683.7" y="209.6" width="1.8" height="1.8" fill="#23908c"/>
<text x="547.4" y="35.8" font-size="6.7" font-weight="bold" fill="#23908c" font-family="Liberation Sans, sans-serif">1611 cm<tspan font-size="4.3" dy="-3">-1</tspan></text>
<text x="543.4" y="93.6" font-size="6.7" font-weight="bold" fill="#ee8c2c" font-family="Liberation Sans, sans-serif">1338 cm<tspan font-size="4.3" dy="-3">-1</tspan></text>
<text x="544.8" y="146.6" font-size="6.7" font-weight="bold" fill="#8a8a8a" font-family="Liberation Sans, sans-serif">1192 cm<tspan font-size="4.3" dy="-3">-1</tspan></text>
<defs>
<filter id="blur3" x="-50%" y="-50%" width="200%" height="200%"><feGaussianBlur stdDeviation="3.0"/></filter>
<filter id="blur2" x="-50%" y="-50%" width="200%" height="200%"><feGaussianBlur stdDeviation="2"/></filter>
<filter id="glow" x="-30%" y="-30%" width="160%" height="160%"><feGaussianBlur stdDeviation="4.2"/></filter>
<filter id="blur1" x="-20%" y="-20%" width="140%" height="140%"><feGaussianBlur stdDeviation="0.8"/></filter>
<linearGradient id="redbeam" gradientUnits="userSpaceOnUse" x1="76" y1="48" x2="133" y2="116">
 <stop offset="0" stop-color="#ffa0aa" stop-opacity="0.3"/>
 <stop offset="0.35" stop-color="#ff8490" stop-opacity="0.8"/>
 <stop offset="1" stop-color="#ff6c7a" stop-opacity="0.95"/>
</linearGradient>
<linearGradient id="orbeam" gradientUnits="userSpaceOnUse" x1="57" y1="183" x2="128" y2="145">
 <stop offset="0" stop-color="#f5841c" stop-opacity="1"/>
 <stop offset="0.45" stop-color="#f3a440" stop-opacity="0.9"/>
 <stop offset="1" stop-color="#f2dc98" stop-opacity="0.7"/>
</linearGradient>
<radialGradient id="cellg" cx="0.3" cy="0.3" r="0.8">
 <stop offset="0" stop-color="#b88498"/>
 <stop offset="0.6" stop-color="#865670"/>
 <stop offset="1" stop-color="#4a2236"/>
</radialGradient>
</defs>
<text x="2.5" y="23.8" font-size="16" font-weight="bold" fill="#000" font-family="Liberation Sans, sans-serif">a</text>
<text x="18" y="49.7" font-size="13.5" font-weight="bold" fill="#ee1c25" font-family="Liberation Sans, sans-serif">808 nm</text>
<text x="8.8" y="181.4" font-size="13.3" font-weight="bold" fill="#ee7b2e" font-family="Liberation Sans, sans-serif">633 nm</text>
<text x="9.4" y="197.7" font-size="13.3" font-weight="bold" fill="#ee7b2e" font-family="Liberation Sans, sans-serif">Raman</text>
<text x="166" y="164.1" font-size="12.4" font-weight="bold" fill="#ee7b2e" font-family="Liberation Sans, sans-serif">SERS signals</text>
<path d="M72.3,51.1 L131.9,126.2 L144.1,115.8 L79.7,44.9 Z" fill="url(#redbeam)" filter="url(#blur3)"/>
<path d="M59.0,188.8 L133.1,148.0 L128.9,140.0 L53.0,177.2 Z" fill="url(#orbeam)" filter="url(#blur2)"/>
<circle cx="146" cy="133" r="22" fill="#fff4d4" opacity="0.9" filter="url(#blur2)"/>
<polygon points="164.4,132.0 163.3,134.7 162.7,137.4 161.5,139.8 161.3,142.9 159.0,144.7 157.1,146.6 154.6,147.8 153.0,150.8 149.6,149.6 146.9,149.7 144.4,150.5 141.4,152.6 139.3,149.3 136.4,149.6 134.5,147.4 131.2,147.2 130.8,143.7 127.8,142.7 126.9,140.0 123.9,138.0 125.6,134.7 126.5,132.0 126.1,129.4 124.6,126.2 128.0,124.5 127.9,121.4 130.4,119.9 131.3,116.9 133.9,115.7 136.9,115.5 138.9,113.2 141.5,111.7 144.4,113.1 147.0,113.7 149.7,114.0 152.7,113.7 154.1,116.9 157.1,117.3 158.2,120.0 162.2,120.6 161.0,124.4 163.3,126.5 163.7,129.2" fill="url(#cellg)" stroke="#d8483a" stroke-width="0.5"/>
<path d="M142.4,121.5 Q142.4,121.5 142.1,122.4 Q141.8,123.4 141.1,124.1 Q140.4,124.8 139.4,125.0 Q138.5,125.2 137.3,125.3 Q136.2,125.3 135.7,124.4 Q135.1,123.4 134.2,122.5 Q133.4,121.5 133.8,120.3 Q134.3,119.1 135.4,118.6 Q136.5,118.1 137.5,117.5 Q138.5,116.9 139.5,117.4 Q140.6,117.8 141.5,118.5 Q142.3,119.2 142.4,120.4 Z" fill="#ac8098" stroke="#ff5436" stroke-width="0.8"/>
<path d="M147.7,120.0 Q147.7,120.0 147.5,120.8 Q147.3,121.7 146.8,122.4 Q146.2,123.1 145.3,123.6 Q144.4,124.1 143.4,123.7 Q142.4,123.3 142.0,122.5 Q141.6,121.6 140.9,120.8 Q140.3,120.0 140.5,118.9 Q140.6,117.8 141.5,117.1 Q142.3,116.3 143.3,116.0 Q144.4,115.8 145.2,116.5 Q146.0,117.3 146.8,117.7 Q147.7,118.1 147.7,119.0 Z" fill="#ac8098" stroke="#ff5436" stroke-width="0.8"/>
<path d="M155.2,120.7 Q155.2,120.7 154.6,121.6 Q154.0,122.4 153.5,123.3 Q153.1,124.2 152.1,124.1 Q151.2,124.1 150.2,124.1 Q149.2,124.1 148.7,123.3 Q148.2,122.5 148.1,121.6 Q148.1,120.7 148.1,119.9 Q148.1,119.0 148.8,118.4 Q149.4,117.8 150.3,117.2 Q151.2,116.6 152.0,117.2 Q152.8,117.8 153.6,118.4 Q154.3,118.9 154.7,119.8 Z" fill="#7e4c64" stroke="#ff5436" stroke-width="0.8"/>
<path d="M161.6,120.3 Q161.6,120.3 160.7,121.2 Q159.8,122.1 159.4,123.1 Q158.9,124.1 157.8,124.3 Q156.8,124.5 155.6,124.4 Q154.5,124.2 153.5,123.5 Q152.6,122.8 152.7,121.5 Q152.9,120.3 152.9,119.2 Q152.9,118.1 153.8,117.4 Q154.7,116.7 155.7,116.4 Q156.8,116.1 157.6,116.7 Q158.5,117.3 159.6,117.7 Q160.8,118.0 161.2,119.2 Z" fill="#7e4c64" stroke="#ff5436" stroke-width="0.8"/>
<path d="M138.4,127.3 Q138.4,127.3 138.1,128.4 Q137.7,129.4 137.2,130.7 Q136.7,131.9 135.4,131.6 Q134.0,131.2 133.1,130.9 Q132.1,130.6 131.4,129.9 Q130.7,129.2 129.8,128.2 Q128.9,127.3 129.3,126.0 Q129.7,124.8 130.8,124.1 Q131.8,123.4 132.9,122.9 Q134.0,122.5 135.0,123.3 Q135.9,124.0 137.1,124.4 Q138.2,124.9 138.3,126.1 Z" fill="#ac8098" stroke="#ff5436" stroke-width="0.8"/>
<path d="M144.7,126.3 Q144.7,126.3 144.4,127.3 Q144.0,128.2 143.3,129.0 Q142.6,129.7 141.6,129.8 Q140.6,129.9 139.8,129.6 Q138.9,129.2 138.1,128.7 Q137.2,128.3 137.1,127.3 Q137.0,126.3 136.9,125.2 Q136.9,124.1 137.6,123.3 Q138.4,122.4 139.5,122.2 Q140.6,121.9 141.6,122.4 Q142.6,122.8 143.2,123.7 Q143.8,124.5 144.3,125.4 Z" fill="#ac8098" stroke="#ff5436" stroke-width="0.8"/>
<path d="M151.1,124.8 Q151.1,124.8 150.9,125.9 Q150.7,126.9 150.1,127.9 Q149.4,128.8 148.3,128.5 Q147.1,128.2 146.1,128.2 Q145.1,128.2 144.4,127.5 Q143.7,126.8 143.3,125.8 Q142.8,124.8 143.0,123.7 Q143.2,122.5 144.1,121.8 Q144.9,121.0 146.0,120.8 Q147.1,120.6 148.2,120.8 Q149.3,121.0 150.0,121.9 Q150.8,122.7 150.9,123.8 Z" fill="#7e4c64" stroke="#ff5436" stroke-width="0.8"/>
<path d="M157.8,126.9 Q157.8,126.9 157.4,128.1 Q157.1,129.3 156.1,129.9 Q155.0,130.4 154.0,131.3 Q153.0,132.1 151.9,131.4 Q150.9,130.6 149.9,130.0 Q149.0,129.3 148.5,128.1 Q148.0,126.9 148.3,125.6 Q148.5,124.3 149.4,123.4 Q150.4,122.4 151.7,122.8 Q153.0,123.3 154.0,123.3 Q155.1,123.3 155.8,124.1 Q156.6,124.9 157.2,125.9 Z" fill="#7e4c64" stroke="#ff5436" stroke-width="0.8"/>
<path d="M134.4,133.5 Q134.4,133.5 134.4,134.5 Q134.4,135.5 133.5,136.0 Q132.6,136.4 131.8,136.8 Q130.9,137.2 129.8,137.3 Q128.6,137.5 127.9,136.6 Q127.2,135.6 127.1,134.6 Q127.0,133.5 127.5,132.6 Q128.0,131.8 128.3,130.6 Q128.6,129.4 129.8,129.3 Q130.9,129.2 131.8,129.8 Q132.7,130.4 133.4,131.0 Q134.2,131.6 134.3,132.5 Z" fill="#ac8098" stroke="#ff5436" stroke-width="0.8"/>
<path d="M143.7,132.3 Q143.7,132.3 143.1,133.2 Q142.5,134.2 142.1,135.4 Q141.6,136.5 140.4,136.4 Q139.2,136.2 138.2,135.9 Q137.3,135.6 136.2,135.1 Q135.1,134.7 135.3,133.5 Q135.5,132.3 135.4,131.1 Q135.3,130.0 136.3,129.5 Q137.3,129.0 138.2,128.4 Q139.2,127.9 140.2,128.4 Q141.1,128.9 141.9,129.6 Q142.7,130.2 143.2,131.3 Z" fill="#7e4c64" stroke="#ff5436" stroke-width="0.8"/>
<path d="M150.0,132.0 Q150.0,132.0 149.7,133.1 Q149.4,134.2 148.7,135.1 Q147.9,136.1 146.7,136.1 Q145.5,136.2 144.5,135.8 Q143.5,135.4 142.7,134.8 Q141.8,134.1 141.6,133.1 Q141.4,132.0 141.7,131.0 Q142.1,130.0 142.5,128.7 Q142.9,127.4 144.2,127.8 Q145.5,128.2 146.8,127.9 Q148.1,127.6 149.1,128.5 Q150.1,129.3 150.1,130.7 Z" fill="#7e4c64" stroke="#ff5436" stroke-width="0.8"/>
<path d="M154.2,131.2 Q154.2,131.2 154.3,132.3 Q154.4,133.4 153.4,133.9 Q152.4,134.4 151.5,135.0 Q150.6,135.7 149.5,135.5 Q148.3,135.2 147.8,134.2 Q147.2,133.2 147.2,132.2 Q147.1,131.2 147.0,130.1 Q146.8,129.1 147.8,128.6 Q148.8,128.1 149.7,127.6 Q150.6,127.2 151.7,127.4 Q152.7,127.6 153.8,128.2 Q154.9,128.8 154.5,130.0 Z" fill="#7e4c64" stroke="#ff5436" stroke-width="0.8"/>
<path d="M162.2,131.0 Q162.2,131.0 162.4,132.1 Q162.5,133.2 161.7,134.0 Q160.9,134.8 159.8,134.9 Q158.7,135.0 157.9,134.4 Q157.1,133.9 156.4,133.3 Q155.7,132.7 155.3,131.9 Q154.9,131.0 155.1,130.0 Q155.2,129.0 156.1,128.4 Q156.9,127.9 157.8,127.2 Q158.7,126.6 159.8,126.9 Q161.0,127.1 161.8,127.9 Q162.7,128.7 162.4,129.8 Z" fill="#532840" stroke="#ff5436" stroke-width="0.8"/>
<path d="M132.4,137.9 Q132.4,137.9 132.6,139.1 Q132.7,140.3 131.7,140.8 Q130.6,141.2 129.7,142.2 Q128.7,143.1 127.5,142.6 Q126.3,142.2 125.4,141.3 Q124.5,140.4 124.6,139.2 Q124.7,137.9 125.1,137.0 Q125.5,136.1 125.8,134.8 Q126.2,133.6 127.5,133.5 Q128.7,133.3 129.9,133.6 Q131.1,133.9 131.8,134.8 Q132.6,135.7 132.5,136.8 Z" fill="#86666a" stroke="#ff5436" stroke-width="0.8"/>
<path d="M139.7,136.7 Q139.7,136.7 139.3,137.7 Q139.0,138.7 138.3,139.5 Q137.6,140.3 136.6,140.5 Q135.5,140.7 134.4,140.7 Q133.2,140.6 132.2,139.9 Q131.2,139.2 131.5,137.9 Q131.8,136.7 132.0,135.7 Q132.3,134.8 132.8,133.8 Q133.3,132.8 134.4,132.4 Q135.5,132.0 136.5,132.6 Q137.5,133.3 138.2,134.0 Q139.0,134.6 139.3,135.6 Z" fill="#7e4c64" stroke="#ff5436" stroke-width="0.8"/>
<path d="M143.4,137.4 Q143.4,137.4 143.5,138.3 Q143.5,139.2 142.9,140.0 Q142.3,140.7 141.3,141.0 Q140.4,141.2 139.6,140.7 Q138.8,140.1 138.2,139.5 Q137.7,138.9 136.9,138.2 Q136.1,137.4 136.7,136.4 Q137.2,135.5 137.9,134.9 Q138.6,134.3 139.5,133.9 Q140.4,133.5 141.4,133.7 Q142.4,133.9 143.0,134.7 Q143.6,135.5 143.5,136.4 Z" fill="#7e4c64" stroke="#ff5436" stroke-width="0.8"/>
<path d="M151.6,137.0 Q151.6,137.0 150.9,137.8 Q150.3,138.7 149.7,139.2 Q149.0,139.7 148.2,140.1 Q147.5,140.5 146.5,140.4 Q145.6,140.2 144.9,139.6 Q144.1,138.9 144.2,138.0 Q144.2,137.0 144.1,136.0 Q144.0,135.0 144.8,134.4 Q145.6,133.8 146.5,133.8 Q147.5,133.8 148.5,133.6 Q149.5,133.4 150.3,134.2 Q151.0,135.0 151.3,136.0 Z" fill="#7e4c64" stroke="#ff5436" stroke-width="0.8"/>
<path d="M157.8,137.5 Q157.8,137.5 157.2,138.5 Q156.5,139.5 156.0,140.7 Q155.5,141.8 154.2,142.2 Q153.0,142.7 151.9,142.1 Q150.7,141.5 149.6,140.8 Q148.5,140.1 148.1,138.8 Q147.7,137.5 148.5,136.4 Q149.3,135.4 149.8,134.2 Q150.4,133.0 151.7,132.6 Q153.0,132.3 154.3,132.7 Q155.5,133.2 155.9,134.4 Q156.2,135.7 157.0,136.6 Z" fill="#532840" stroke="#ff5436" stroke-width="0.8"/>
<path d="M140.5,143.1 Q140.5,143.1 140.2,144.2 Q139.9,145.2 139.2,146.0 Q138.5,146.9 137.5,147.1 Q136.4,147.3 135.5,146.7 Q134.6,146.1 133.5,145.8 Q132.4,145.4 132.4,144.3 Q132.4,143.1 132.4,142.0 Q132.5,140.9 133.6,140.5 Q134.6,140.1 135.5,139.3 Q136.4,138.5 137.4,139.1 Q138.4,139.6 139.3,140.3 Q140.1,141.0 140.3,142.1 Z" fill="#86666a" stroke="#ff5436" stroke-width="0.8"/>
<path d="M150.4,144.9 Q150.4,144.9 149.7,145.9 Q149.0,146.9 148.1,147.5 Q147.3,148.1 146.3,148.6 Q145.4,149.1 144.5,148.6 Q143.5,148.2 142.5,147.6 Q141.6,147.1 141.1,146.0 Q140.6,144.9 141.2,143.9 Q141.8,142.8 142.7,142.2 Q143.5,141.6 144.5,141.5 Q145.4,141.3 146.5,141.3 Q147.5,141.2 148.4,141.9 Q149.3,142.7 149.8,143.8 Z" fill="#532840" stroke="#ff5436" stroke-width="0.8"/>
<path d="M156.0,144.3 Q156.0,144.3 155.5,145.1 Q155.0,145.9 154.3,146.5 Q153.7,147.0 152.9,147.7 Q152.1,148.5 151.2,148.0 Q150.3,147.5 149.4,146.9 Q148.6,146.4 148.5,145.3 Q148.5,144.3 149.0,143.5 Q149.4,142.7 150.0,142.1 Q150.5,141.5 151.3,141.1 Q152.1,140.8 153.1,140.9 Q154.0,141.0 154.8,141.7 Q155.6,142.3 155.8,143.3 Z" fill="#532840" stroke="#ff5436" stroke-width="0.8"/>
<circle cx="153.7" cy="124.7" r="2.9" fill="#52243a"/>
<circle cx="153.7" cy="124.7" r="2.0" fill="#f6e07a"/>
<circle cx="153.7" cy="124.7" r="0.9" fill="#fff6c8"/>
<circle cx="160.9" cy="128.3" r="2.9" fill="#52243a"/>
<circle cx="160.9" cy="128.3" r="2.0" fill="#f6e07a"/>
<circle cx="160.9" cy="128.3" r="0.9" fill="#fff6c8"/>
<circle cx="147.6" cy="129.9" r="2.9" fill="#52243a"/>
<circle cx="147.6" cy="129.9" r="2.0" fill="#f6e07a"/>
<circle cx="147.6" cy="129.9" r="0.9" fill="#fff6c8"/>
<circle cx="154.4" cy="131.5" r="2.9" fill="#52243a"/>
<circle cx="154.4" cy="131.5" r="2.0" fill="#f6e07a"/>
<circle cx="154.4" cy="131.5" r="0.9" fill="#fff6c8"/>
<circle cx="149.3" cy="136" r="2.9" fill="#52243a"/>
<circle cx="149.3" cy="136" r="2.0" fill="#f6e07a"/>
<circle cx="149.3" cy="136" r="0.9" fill="#fff6c8"/>
<circle cx="157.3" cy="137.6" r="2.9" fill="#52243a"/>
<circle cx="157.3" cy="137.6" r="2.0" fill="#f6e07a"/>
<circle cx="157.3" cy="137.6" r="0.9" fill="#fff6c8"/>
<path d="M131,147 Q127,150 130,153 M134,149 Q133,152 137,152" stroke="#e84a38" stroke-width="0.8" fill="none"/>
<path d="M168,139.7 L186.5,139.7 L189.3,128.3 L195.4,146.6 L198.4,135.3 L201.5,144.2 L204.5,139.6 L220,139.4" fill="none" stroke="#f5891e" stroke-width="1.7" stroke-linejoin="miter"/>
<path d="M210.4,136 L220.6,139.4 L210.4,143.2" fill="none" stroke="#f5891e" stroke-width="1.7"/>
<text x="6.5" y="275.9" font-size="15.5" font-weight="bold" fill="#000" font-family="Liberation Sans, sans-serif">d</text>
<rect x="13.8" y="266.5" width="347.2" height="118.8" rx="17" fill="#fff" stroke="#ffb2b2" stroke-width="1.2"/>
<text x="44.5" y="290" font-size="10.7" font-weight="bold" fill="#f22a2a" style="white-space:pre" font-family="Liberation Sans, sans-serif">Laser  on</text>
<g fill="#f46666" opacity="0.9" filter="url(#glow)"><circle cx="47.8" cy="312.9" r="13.7"/><circle cx="66.3" cy="312.9" r="13.7"/><circle cx="78.3" cy="311.8" r="13.125"/><circle cx="87" cy="321.7" r="13.7"/><circle cx="98" cy="337" r="15.424999999999999"/><circle cx="36.8" cy="325" r="13.7"/><circle cx="35.7" cy="340" r="13.7"/><circle cx="50" cy="333.7" r="13.7"/><circle cx="63" cy="327" r="12.549999999999999"/><circle cx="80.5" cy="335.9" r="13.7"/><circle cx="43.4" cy="350" r="13.7"/><circle cx="67.4" cy="346.8" r="14.85"/><circle cx="64.1" cy="359.9" r="13.7"/><circle cx="80.5" cy="355.5" r="13.7"/><circle cx="90.3" cy="349" r="12.549999999999999"/><circle cx="54.3" cy="355.5" r="12.549999999999999"/></g>
<ellipse cx="67.0" cy="333.0" rx="31.0" ry="23.0" fill="#bccbdb" stroke="#8a9cb1" stroke-width="0.5"/><g fill="#bccbdb"><circle cx="47.8" cy="312.9" r="9.2"/><circle cx="66.3" cy="312.9" r="9.2"/><circle cx="78.3" cy="311.8" r="8.6"/><circle cx="87.0" cy="321.7" r="9.2"/><circle cx="98.0" cy="337.0" r="10.9"/><circle cx="36.8" cy="325.0" r="9.2"/><circle cx="35.7" cy="340.0" r="9.2"/><circle cx="50.0" cy="333.7" r="9.2"/><circle cx="63.0" cy="327.0" r="8.0"/><circle cx="80.5" cy="335.9" r="9.2"/><circle cx="43.4" cy="350.0" r="9.2"/><circle cx="67.4" cy="346.8" r="10.3"/><circle cx="64.1" cy="359.9" r="9.2"/><circle cx="80.5" cy="355.5" r="9.2"/><circle cx="90.3" cy="349.0" r="8.0"/><circle cx="54.3" cy="355.5" r="8.0"/></g><polygon points="56.6,312.9 55.3,314.6 55.9,316.8 54.4,318.1 53.8,320.5 51.5,320.6 49.9,322.2 47.8,321.1 45.9,321.2 44.3,320.1 42.3,319.8 41.3,318.1 39.2,317.0 39.2,314.9 37.7,312.9 39.4,311.0 39.5,308.9 41.7,308.1 42.3,306.0 44.4,305.8 45.8,304.2 47.8,304.3 49.9,303.8 51.5,305.2 54.0,305.2 54.6,307.5 56.0,309.0 55.2,311.2" fill="#bccbdb" stroke="#8a9cb1" stroke-width="0.6"/><ellipse cx="47.5" cy="313.7" rx="4.0" ry="3.7" fill="#8aa0bb"/><polygon points="75.5,312.9 74.0,314.7 74.2,316.7 72.5,317.8 72.0,320.0 70.0,320.7 68.5,322.5 66.3,321.6 64.2,322.1 62.6,320.6 60.6,320.1 60.0,318.0 58.7,316.6 58.3,314.7 56.8,312.9 58.2,311.1 57.7,308.7 59.4,307.4 60.6,305.7 62.7,305.3 64.4,304.5 66.3,305.0 68.2,304.5 69.8,305.7 72.0,305.7 73.1,307.5 75.2,308.6 74.5,311.0" fill="#bccbdb" stroke="#8a9cb1" stroke-width="0.6"/><ellipse cx="66.7" cy="312.5" rx="4.0" ry="3.7" fill="#8aa0bb"/><polygon points="86.4,311.8 85.2,313.4 85.5,315.3 84.1,316.4 83.9,318.8 81.8,319.1 80.3,320.4 78.3,320.1 76.4,320.3 75.2,318.3 73.1,318.3 72.5,316.4 70.7,315.4 70.6,313.6 68.9,311.8 70.4,310.0 70.1,307.8 72.1,306.9 73.1,305.3 75.2,305.3 76.5,303.7 78.3,304.2 80.2,303.4 81.8,304.5 83.9,304.8 84.8,306.6 86.0,308.1 85.8,310.1" fill="#bccbdb" stroke="#8a9cb1" stroke-width="0.6"/><ellipse cx="78.2" cy="311.1" rx="3.8" ry="3.5" fill="#8aa0bb"/><polygon points="96.0,321.7 94.4,323.4 94.8,325.5 93.1,326.6 92.9,329.1 90.7,329.4 89.1,331.1 87.0,330.2 85.0,330.5 83.6,328.8 81.7,328.3 80.9,326.6 78.8,325.6 79.2,323.5 77.8,321.7 78.4,319.7 78.5,317.6 80.4,316.4 81.2,314.4 83.6,314.7 85.0,313.1 87.0,313.8 88.9,313.2 90.6,314.3 93.1,314.1 93.6,316.4 95.4,317.6 95.2,319.8" fill="#bccbdb" stroke="#8a9cb1" stroke-width="0.6"/><ellipse cx="87.8" cy="321.7" rx="4.0" ry="3.7" fill="#8aa0bb"/><polygon points="108.0,337.0 106.9,339.0 107.3,341.5 105.9,343.3 105.0,345.7 102.6,346.6 100.5,347.8 98.0,347.1 95.5,347.9 93.8,345.7 91.6,345.1 90.9,342.7 88.0,341.8 88.5,339.2 86.1,337.0 87.6,334.6 87.6,332.0 90.2,330.8 91.6,329.0 94.0,328.8 95.7,326.8 98.0,327.4 100.4,326.4 102.6,327.5 105.0,328.3 105.9,330.7 107.7,332.3 107.3,334.9" fill="#bccbdb" stroke="#8a9cb1" stroke-width="0.6"/><ellipse cx="98.7" cy="337.6" rx="4.8" ry="4.4" fill="#8aa0bb"/><polygon points="46.3,325.0 45.1,326.9 45.6,329.2 43.3,330.2 42.3,331.8 40.2,332.0 38.8,333.7 36.8,332.9 34.7,334.1 33.0,332.8 30.7,332.6 30.0,330.5 28.4,329.0 29.0,326.8 28.0,325.0 29.3,323.3 29.0,321.2 30.6,320.0 30.7,317.4 33.0,317.2 34.7,315.7 36.8,316.7 38.8,316.3 40.4,317.6 42.1,318.3 43.0,320.0 44.7,321.2 45.1,323.1" fill="#bccbdb" stroke="#8a9cb1" stroke-width="0.6"/><ellipse cx="36.7" cy="325.6" rx="4.0" ry="3.7" fill="#8aa0bb"/><polygon points="44.7,340.0 43.3,341.7 43.6,343.8 42.0,345.0 41.4,347.2 39.4,347.6 37.8,349.3 35.7,349.0 33.5,349.6 32.2,347.3 30.1,347.0 29.5,345.0 27.8,343.8 27.6,341.9 26.1,340.0 27.4,338.1 26.6,335.6 29.0,334.7 29.9,332.8 32.1,332.4 33.8,331.7 35.7,332.3 37.7,331.3 39.2,332.7 41.5,332.7 42.7,334.4 44.5,335.7 44.2,338.1" fill="#bccbdb" stroke="#8a9cb1" stroke-width="0.6"/><ellipse cx="36.4" cy="340.9" rx="4.0" ry="3.7" fill="#8aa0bb"/><polygon points="59.1,333.7 58.4,335.6 58.6,337.8 57.0,339.3 56.1,341.3 53.8,341.6 52.0,342.7 50.0,341.5 48.1,342.2 46.6,340.7 44.5,340.6 43.4,338.9 41.5,337.8 41.8,335.6 40.8,333.7 42.0,331.9 41.9,329.8 44.1,329.0 44.5,326.8 46.6,326.7 47.9,324.6 50.0,325.2 52.2,324.2 53.8,325.8 55.8,326.5 56.2,328.7 58.0,329.9 57.4,332.0" fill="#bccbdb" stroke="#8a9cb1" stroke-width="0.6"/><ellipse cx="49.6" cy="334.2" rx="4.0" ry="3.7" fill="#8aa0bb"/><polygon points="70.9,327.0 69.8,328.5 70.5,330.6 68.9,331.7 68.4,333.8 66.4,334.0 64.8,334.7 63.0,333.9 61.3,334.7 60.1,333.1 58.1,333.1 57.2,331.7 55.6,330.6 55.3,328.7 54.9,327.0 55.9,325.4 56.1,323.7 57.7,322.8 58.4,321.2 60.1,321.0 61.2,319.0 63.0,319.7 64.9,318.7 66.3,320.1 68.3,320.3 68.8,322.4 70.0,323.6 69.5,325.5" fill="#bccbdb" stroke="#8a9cb1" stroke-width="0.6"/><ellipse cx="63.6" cy="326.0" rx="3.5" ry="3.2" fill="#8aa0bb"/><polygon points="89.3,335.9 88.5,337.7 89.0,340.0 87.3,341.3 86.6,343.6 84.2,343.7 82.5,344.8 80.5,343.9 78.6,344.2 77.1,343.0 74.9,343.0 73.8,341.2 71.5,340.3 71.7,337.9 71.4,335.9 72.2,334.0 72.3,332.0 74.4,331.1 74.9,328.9 76.9,328.4 78.5,326.9 80.5,327.1 82.8,326.0 84.3,327.9 86.4,328.5 86.5,331.1 88.4,332.1 88.1,334.2" fill="#bccbdb" stroke="#8a9cb1" stroke-width="0.6"/><ellipse cx="81.5" cy="335.1" rx="4.0" ry="3.7" fill="#8aa0bb"/><polygon points="52.2,350.0 51.3,351.8 51.3,353.8 49.4,354.8 49.0,357.0 47.0,357.5 45.6,359.6 43.4,358.8 41.4,358.9 39.7,357.7 37.7,357.2 37.3,354.8 35.5,353.8 35.6,351.8 34.0,350.0 35.0,348.1 34.7,345.8 36.5,344.5 37.8,342.9 40.0,342.9 41.4,341.4 43.4,342.4 45.3,341.6 47.1,342.3 49.2,342.7 50.2,344.6 52.0,345.9 51.5,348.2" fill="#bccbdb" stroke="#8a9cb1" stroke-width="0.6"/><ellipse cx="43.0" cy="350.1" rx="4.0" ry="3.7" fill="#8aa0bb"/><polygon points="78.2,346.8 76.7,348.9 76.9,351.4 74.7,352.6 73.6,354.6 71.2,354.7 69.5,356.1 67.4,355.9 65.1,356.9 63.3,355.4 60.4,355.5 59.6,353.0 57.9,351.4 58.3,348.9 57.3,346.8 58.8,344.8 58.4,342.5 60.2,341.1 60.6,338.3 63.2,338.2 64.9,336.0 67.4,336.7 69.7,336.6 71.5,338.4 73.3,339.4 74.4,341.2 76.2,342.5 76.7,344.7" fill="#bccbdb" stroke="#8a9cb1" stroke-width="0.6"/><ellipse cx="67.2" cy="346.9" rx="4.6" ry="4.1" fill="#8aa0bb"/><polygon points="73.7,359.9 72.8,361.9 72.6,364.0 70.5,365.0 69.4,366.5 67.4,366.8 66.1,368.9 64.1,368.0 62.0,369.2 60.2,367.9 58.0,367.5 57.4,365.2 55.6,364.0 56.2,361.7 55.6,359.9 56.5,358.2 56.0,356.0 57.4,354.5 58.0,352.2 60.4,352.2 61.9,350.4 64.1,351.7 66.0,351.6 67.4,353.0 69.5,353.2 70.2,355.0 72.6,355.8 72.9,357.9" fill="#bccbdb" stroke="#8a9cb1" stroke-width="0.6"/><ellipse cx="65.1" cy="360.2" rx="4.0" ry="3.7" fill="#8aa0bb"/><polygon points="89.3,355.5 88.5,357.3 89.3,359.7 87.1,360.7 86.5,363.0 84.2,363.2 82.5,364.4 80.5,363.4 78.6,363.6 77.1,362.7 74.7,362.8 74.1,360.6 72.0,359.6 72.1,357.4 70.6,355.5 72.5,353.7 72.3,351.5 74.5,350.7 75.1,348.7 77.0,348.2 78.4,346.4 80.5,347.2 82.7,345.7 84.4,347.4 86.4,348.1 87.1,350.3 88.5,351.7 87.9,353.8" fill="#bccbdb" stroke="#8a9cb1" stroke-width="0.6"/><ellipse cx="80.3" cy="356.3" rx="4.0" ry="3.7" fill="#8aa0bb"/><polygon points="98.2,349.0 97.0,350.5 97.0,352.2 95.7,353.3 95.2,355.1 93.4,355.5 92.1,357.1 90.3,357.0 88.4,357.2 87.0,355.8 85.5,355.1 84.9,353.3 83.7,352.2 83.8,350.5 82.5,349.0 83.3,347.4 82.7,345.4 84.2,344.2 85.1,342.4 87.1,342.3 88.6,341.5 90.3,342.4 92.0,341.4 93.3,342.7 95.5,342.5 96.5,344.1 98.0,345.3 97.5,347.3" fill="#bccbdb" stroke="#8a9cb1" stroke-width="0.6"/><ellipse cx="90.0" cy="349.0" rx="3.5" ry="3.2" fill="#8aa0bb"/><polygon points="62.5,355.5 61.5,357.1 61.6,359.0 59.8,359.9 59.1,361.5 57.4,361.9 56.1,363.4 54.3,362.9 52.4,363.9 51.1,362.2 49.0,362.2 48.5,360.1 47.4,358.8 47.7,357.0 46.8,355.5 47.3,353.9 47.0,352.0 48.2,350.7 48.8,348.6 50.9,348.5 52.5,347.6 54.3,348.5 56.1,347.8 57.4,349.2 59.0,349.6 59.9,351.0 62.0,351.8 61.9,353.8" fill="#bccbdb" stroke="#8a9cb1" stroke-width="0.6"/><ellipse cx="53.8" cy="355.4" rx="3.5" ry="3.2" fill="#8aa0bb"/>
<rect x="36.2" y="314.5" width="19.6" height="10.5" fill="#f0542a"/><text x="46.0" y="323.6" font-size="10.8" fill="#fff" text-anchor="middle" textLength="17.6" lengthAdjust="spacingAndGlyphs" font-family="Liberation Sans, sans-serif">ROS</text>
<rect x="68.5" y="319.5" width="19.6" height="10.5" fill="#f0542a"/><text x="78.3" y="328.6" font-size="10.8" fill="#fff" text-anchor="middle" textLength="17.6" lengthAdjust="spacingAndGlyphs" font-family="Liberation Sans, sans-serif">ROS</text>
<rect x="44.9" y="339.0" width="19.9" height="11.0" fill="#f0542a"/><text x="54.8" y="348.3" font-size="10.8" fill="#fff" text-anchor="middle" textLength="17.9" lengthAdjust="spacingAndGlyphs" font-family="Liberation Sans, sans-serif">ROS</text>
<rect x="71.3" y="344.0" width="19.7" height="10.4" fill="#f0542a"/><text x="81.2" y="353.0" font-size="10.8" fill="#fff" text-anchor="middle" textLength="17.7" lengthAdjust="spacingAndGlyphs" font-family="Liberation Sans, sans-serif">ROS</text>
<text x="153.6" y="306.5" font-size="10.8" font-weight="bold" text-anchor="middle" fill="#f22a2a" font-family="Liberation Sans, sans-serif">Fast</text>
<text x="153.6" y="318.6" font-size="10.8" font-weight="bold" text-anchor="middle" fill="#f22a2a" font-family="Liberation Sans, sans-serif">process</text>
<text x="150.6" y="361" font-size="10.6" font-weight="bold" text-anchor="middle" fill="#f22a2a" font-family="Liberation Sans, sans-serif">3 min</text>
<line x1="124.3" y1="329.8" x2="182" y2="329.8" stroke="#f22a2a" stroke-width="1.35"/>
<path d="M181,327.2 L187,329.8 L181,332.4 Z" fill="#f22a2a"/>
<line x1="124.3" y1="338.4" x2="182" y2="338.4" stroke="#f22a2a" stroke-width="1.35"/>
<path d="M181,335.8 L187,338.4 L181,341.0 Z" fill="#f22a2a"/>
<line x1="124.3" y1="346.7" x2="182" y2="346.7" stroke="#f22a2a" stroke-width="1.35"/>
<path d="M181,344.1 L187,346.7 L181,349.3 Z" fill="#f22a2a"/>
<g fill="#7393cc" stroke="#6080bc" stroke-width="0.6">
<path d="M211,314 C207,308 212,301 219,300 C224,299 226,294 232,296 C237,298 236,305 232,309 C228,313 222,315 216,316 C213,317 212,316 211,314 Z"/>
<path d="M212,339 C211,334 217,332 222,334 C226,336 230,338 234,340 C240,343 239,351 232,352 C226,353 222,351 219,348 C214,346 212,343 212,339 Z"/>
<circle cx="205.8" cy="321.5" r="6.3"/>
<path d="M206,318 C212,316 218,320 226,319 C230,313 240,311 246,315 C251,319 251,327 246,331 C241,335 234,333 230,331 C224,329 218,331 212,329 C206,327 203,321 206,318 Z"/>
<circle cx="255.3" cy="332.3" r="7.2"/>
<circle cx="242.7" cy="337.5" r="6.3"/>
<ellipse cx="250.8" cy="313.4" rx="3.8" ry="4.4"/>
<ellipse cx="237.6" cy="308.5" rx="4" ry="1.8"/>
<circle cx="233.7" cy="331.7" r="2.3"/>
<circle cx="251.7" cy="322.4" r="1.8"/>
</g>
<ellipse cx="236.5" cy="318" rx="5.2" ry="3.8" fill="#5f7fb8"/>
<ellipse cx="220" cy="325" rx="4.2" ry="2.4" fill="#6686c0"/>
<text x="227.6" y="367.6" font-size="10.9" font-weight="bold" text-anchor="middle" fill="#000" font-family="Liberation Sans, sans-serif">Cell Death</text>
<path d="M305.1,352.4 L308.7,317.7 L312.1,317.7 L313.2,352.4 Z" fill="#3b3b4c" stroke="#6a6a88" stroke-width="0.4"/>
<circle cx="310.4" cy="317.9" r="2.6" fill="#3b3b4c"/>
<line x1="287" y1="310" x2="331.7" y2="333.9" stroke="#3d3d52" stroke-width="1.9"/>
<path d="M287,307.7 L283.9,313.3 L291.6,313.3 Z" fill="#3d3d52"/>
<path d="M331.7,331.6 L327.8,337 L334.7,337 Z" fill="#3d3d52"/>
<ellipse cx="288.2" cy="322.4" rx="11.4" ry="6.8" fill="#1c4a80" stroke="#eef3f8" stroke-width="0.8"/><text x="288.2" y="326.0" font-size="10.2" fill="#fff" text-anchor="middle" textLength="18.5" lengthAdjust="spacingAndGlyphs" font-family="Liberation Sans, sans-serif">GSH</text>
<rect x="321.6" y="338.5" width="20.8" height="12.4" fill="#f0542a"/><text x="332.0" y="348.5" font-size="11" fill="#fff" text-anchor="middle" textLength="18.8" lengthAdjust="spacingAndGlyphs" font-family="Liberation Sans, sans-serif">ROS</text>
<text x="397.2" y="276.6" font-size="16.2" font-weight="bold" fill="#000" font-family="Liberation Sans, sans-serif">e</text>
<rect x="408.3" y="266.6" width="264.1" height="118.3" rx="16" fill="#fff" stroke="#8ab3e0" stroke-width="1.2"/>
<text x="436" y="290" font-size="10.7" font-weight="bold" fill="#000" style="white-space:pre" font-family="Liberation Sans, sans-serif">Laser  off</text>
<ellipse cx="458.0" cy="330.0" rx="29.0" ry="22.0" fill="#bccbdb" stroke="#8a9cb1" stroke-width="0.5"/><g fill="#bccbdb"><circle cx="440.9" cy="307.8" r="8.5"/><circle cx="457.6" cy="306.9" r="8.3"/><circle cx="470.6" cy="307.8" r="8.3"/><circle cx="479.8" cy="315.2" r="8.3"/><circle cx="429.8" cy="318.9" r="8.5"/><circle cx="453.0" cy="320.8" r="8.1"/><circle cx="490.0" cy="331.9" r="9.9"/><circle cx="426.1" cy="334.7" r="8.3"/><circle cx="440.0" cy="332.8" r="7.8"/><circle cx="474.3" cy="330.0" r="7.8"/><circle cx="460.4" cy="341.1" r="9.6"/><circle cx="435.4" cy="346.7" r="8.5"/><circle cx="454.8" cy="352.3" r="8.3"/><circle cx="470.6" cy="351.3" r="8.5"/></g><polygon points="449.0,307.8 448.4,309.5 449.1,311.7 447.4,313.0 446.6,315.0 444.2,314.7 442.8,316.0 440.9,315.3 439.1,315.5 437.7,314.4 435.6,314.4 434.5,312.9 433.0,311.6 433.0,309.6 432.0,307.8 433.8,306.2 433.6,304.3 435.2,303.3 435.6,301.2 437.6,300.9 438.9,299.2 440.9,299.4 442.9,298.9 444.2,300.9 446.3,301.1 446.6,303.3 448.4,304.2 448.3,306.1" fill="#bccbdb" stroke="#8a9cb1" stroke-width="0.6"/><ellipse cx="440.9" cy="307.6" rx="3.7" ry="3.4" fill="#8aa0bb"/><polygon points="466.2,306.9 465.1,308.6 465.0,310.5 463.4,311.6 462.3,312.8 460.7,313.3 459.4,314.7 457.6,314.4 455.7,315.3 454.1,314.2 452.2,313.6 451.8,311.6 450.1,310.5 450.8,308.5 449.5,306.9 450.5,305.3 450.2,303.3 451.5,302.0 452.3,300.2 454.2,299.8 455.7,298.5 457.6,299.5 459.4,299.1 460.6,300.6 462.5,300.7 463.0,302.6 465.1,303.3 464.9,305.2" fill="#bccbdb" stroke="#8a9cb1" stroke-width="0.6"/><ellipse cx="458.7" cy="307.0" rx="3.6" ry="3.3" fill="#8aa0bb"/><polygon points="478.5,307.8 477.6,309.4 477.8,311.2 476.4,312.4 475.8,314.4 473.9,314.7 472.6,316.4 470.6,315.4 468.7,316.2 467.5,314.3 465.6,314.1 465.3,312.0 463.4,311.3 463.6,309.4 462.4,307.8 463.1,306.1 462.5,303.9 464.6,303.0 465.5,301.4 467.4,301.2 468.8,299.9 470.6,300.9 472.4,299.8 474.0,300.8 476.2,300.8 476.7,302.9 478.4,304.1 478.1,306.1" fill="#bccbdb" stroke="#8a9cb1" stroke-width="0.6"/><ellipse cx="470.0" cy="307.8" rx="3.6" ry="3.3" fill="#8aa0bb"/><polygon points="487.9,315.2 486.5,316.7 487.0,318.7 485.4,319.7 484.9,321.6 483.2,322.3 481.8,323.9 479.8,323.0 477.9,323.6 476.8,321.5 474.9,321.3 474.3,319.6 472.7,318.6 472.2,316.9 471.4,315.2 472.2,313.5 472.3,311.6 473.8,310.4 474.7,308.8 476.8,309.0 478.0,307.3 479.8,308.0 481.6,307.3 483.3,308.0 485.4,308.2 485.9,310.4 487.7,311.4 486.8,313.6" fill="#bccbdb" stroke="#8a9cb1" stroke-width="0.6"/><ellipse cx="479.4" cy="315.0" rx="3.6" ry="3.3" fill="#8aa0bb"/><polygon points="438.0,318.9 437.4,320.6 437.7,322.7 436.3,324.1 435.2,325.6 433.2,326.0 431.6,326.8 429.8,326.1 428.0,327.0 426.6,325.5 424.4,325.6 423.5,323.9 421.6,322.8 422.0,320.7 421.0,318.9 422.6,317.3 422.7,315.5 424.4,314.6 424.7,312.5 426.5,312.0 427.8,310.1 429.8,311.0 431.8,310.0 433.2,311.8 435.1,312.3 435.7,314.2 437.0,315.4 436.9,317.3" fill="#bccbdb" stroke="#8a9cb1" stroke-width="0.6"/><ellipse cx="430.1" cy="318.1" rx="3.7" ry="3.4" fill="#8aa0bb"/><polygon points="460.7,320.8 459.8,322.3 460.5,324.4 459.2,325.8 458.5,327.7 456.2,327.5 454.8,328.5 453.0,328.0 451.3,328.1 450.1,326.8 448.2,326.8 447.2,325.4 445.3,324.5 445.8,322.5 444.7,320.8 445.7,319.1 446.0,317.5 447.8,316.6 448.2,314.8 450.0,314.5 451.2,312.8 453.0,313.2 454.9,312.3 456.3,313.9 458.3,314.1 458.7,316.2 460.0,317.4 459.6,319.3" fill="#bccbdb" stroke="#8a9cb1" stroke-width="0.6"/><ellipse cx="453.3" cy="320.5" rx="3.5" ry="3.2" fill="#8aa0bb"/><polygon points="500.4,331.9 499.3,334.0 499.6,336.5 497.4,337.8 496.2,339.6 493.8,339.9 492.1,340.9 490.0,340.6 487.9,341.0 486.1,339.9 483.5,340.0 482.5,337.9 480.7,336.4 481.0,333.9 480.5,331.9 481.7,330.0 481.4,327.8 483.3,326.5 484.1,324.5 486.0,323.5 487.8,322.1 490.0,322.7 492.2,322.4 493.9,323.9 495.7,324.8 496.6,326.6 498.2,328.0 498.3,330.0" fill="#bccbdb" stroke="#8a9cb1" stroke-width="0.6"/><ellipse cx="490.5" cy="332.9" rx="4.3" ry="3.9" fill="#8aa0bb"/><polygon points="434.7,334.7 433.7,336.4 434.1,338.5 431.9,339.4 431.1,340.9 429.1,341.0 427.9,342.5 426.1,341.8 424.3,342.6 422.9,341.3 420.6,341.6 419.7,339.8 418.5,338.4 418.6,336.4 417.8,334.7 419.0,333.1 419.0,331.3 420.4,330.2 421.0,328.3 422.7,327.6 424.2,326.3 426.1,326.8 428.0,326.3 429.4,327.8 431.1,328.4 431.4,330.5 433.0,331.4 433.2,333.1" fill="#bccbdb" stroke="#8a9cb1" stroke-width="0.6"/><ellipse cx="425.9" cy="335.2" rx="3.6" ry="3.3" fill="#8aa0bb"/><polygon points="448.3,332.8 447.2,334.4 447.0,336.2 445.4,337.1 444.6,338.6 443.0,339.0 441.6,340.0 440.0,340.1 438.2,340.8 436.8,339.5 435.0,339.0 434.3,337.4 432.9,336.2 433.5,334.3 432.5,332.8 433.4,331.3 433.2,329.5 434.2,328.1 434.9,326.4 436.8,326.1 438.2,324.7 440.0,325.6 441.7,325.3 442.8,326.9 444.8,326.8 445.2,328.6 447.2,329.3 447.2,331.2" fill="#bccbdb" stroke="#8a9cb1" stroke-width="0.6"/><ellipse cx="440.9" cy="333.3" rx="3.4" ry="3.1" fill="#8aa0bb"/><polygon points="481.9,330.0 480.7,331.5 481.0,333.2 479.6,334.2 479.3,336.2 477.5,336.6 476.2,338.2 474.3,337.1 472.5,337.9 471.3,336.1 469.7,335.7 469.2,334.0 467.4,333.3 467.3,331.6 466.3,330.0 466.7,328.3 467.0,326.5 468.8,325.6 469.6,324.2 471.4,324.1 472.7,322.9 474.3,323.0 476.0,322.6 477.5,323.4 479.5,323.5 480.1,325.4 481.4,326.6 481.0,328.5" fill="#bccbdb" stroke="#8a9cb1" stroke-width="0.6"/><ellipse cx="473.3" cy="329.5" rx="3.4" ry="3.1" fill="#8aa0bb"/><polygon points="470.5,341.1 468.7,343.0 468.6,345.1 466.8,346.2 466.0,348.2 464.1,348.9 462.5,350.5 460.4,350.3 458.1,351.1 456.5,349.3 454.2,348.8 453.7,346.4 451.9,345.2 452.6,342.9 450.7,341.1 451.9,339.1 451.4,336.8 453.2,335.4 453.9,333.0 456.5,332.9 458.3,331.8 460.4,333.0 462.4,332.5 463.9,333.7 466.5,333.4 467.6,335.4 469.3,336.8 468.9,339.1" fill="#bccbdb" stroke="#8a9cb1" stroke-width="0.6"/><ellipse cx="461.6" cy="340.7" rx="4.2" ry="3.9" fill="#8aa0bb"/><polygon points="444.0,346.7 443.0,348.4 443.7,350.7 441.7,351.7 440.8,353.5 438.7,353.6 437.1,354.3 435.4,353.8 433.5,354.9 432.0,353.7 429.9,353.6 429.1,351.7 427.2,350.6 427.5,348.5 426.7,346.7 428.1,345.0 427.9,343.1 429.9,342.3 430.4,340.4 431.9,339.4 433.4,338.1 435.4,338.6 437.4,338.1 438.8,339.6 440.5,340.3 440.9,342.3 442.5,343.3 442.9,345.0" fill="#bccbdb" stroke="#8a9cb1" stroke-width="0.6"/><ellipse cx="436.2" cy="345.8" rx="3.7" ry="3.4" fill="#8aa0bb"/><polygon points="462.9,352.3 462.4,354.0 462.7,356.1 461.2,357.4 460.2,359.0 457.9,358.8 456.6,360.1 454.8,359.5 453.1,359.9 451.6,359.0 449.6,358.8 448.8,357.1 447.0,356.1 447.3,354.0 446.4,352.3 447.5,350.6 447.7,348.9 449.2,347.8 450.0,346.2 451.6,345.7 452.9,343.9 454.8,344.5 456.7,344.1 458.2,345.2 459.7,346.1 460.4,347.8 462.1,348.8 461.6,350.7" fill="#bccbdb" stroke="#8a9cb1" stroke-width="0.6"/><ellipse cx="454.2" cy="351.9" rx="3.6" ry="3.3" fill="#8aa0bb"/><polygon points="479.3,351.3 477.5,352.9 477.7,354.7 476.5,356.0 475.8,357.8 474.1,358.5 472.6,360.2 470.6,359.1 468.7,359.6 467.2,358.3 465.3,357.9 464.9,355.9 463.4,354.8 463.5,352.9 461.9,351.3 463.0,349.6 462.6,347.4 464.6,346.5 465.2,344.6 467.4,344.6 468.8,343.6 470.6,344.2 472.4,343.6 473.8,344.6 476.0,344.6 477.2,346.0 478.4,347.6 478.4,349.5" fill="#bccbdb" stroke="#8a9cb1" stroke-width="0.6"/><ellipse cx="470.5" cy="351.5" rx="3.7" ry="3.4" fill="#8aa0bb"/>
<ellipse cx="440.9" cy="315.5" rx="10.8" ry="7.0" fill="#1c4a80" stroke="#eef3f8" stroke-width="0.8"/><text x="440.9" y="319.1" font-size="10.2" fill="#fff" text-anchor="middle" textLength="17.5" lengthAdjust="spacingAndGlyphs" font-family="Liberation Sans, sans-serif">GSH</text>
<ellipse cx="476.1" cy="318.2" rx="10.8" ry="7.0" fill="#1c4a80" stroke="#eef3f8" stroke-width="0.8"/><text x="476.1" y="321.8" font-size="10.2" fill="#fff" text-anchor="middle" textLength="17.5" lengthAdjust="spacingAndGlyphs" font-family="Liberation Sans, sans-serif">GSH</text>
<ellipse cx="477.0" cy="338.6" rx="10.8" ry="7.0" fill="#1c4a80" stroke="#eef3f8" stroke-width="0.8"/><text x="477.0" y="342.2" font-size="10.2" fill="#fff" text-anchor="middle" textLength="17.5" lengthAdjust="spacingAndGlyphs" font-family="Liberation Sans, sans-serif">GSH</text>
<ellipse cx="439.1" cy="345.0" rx="10.8" ry="7.0" fill="#1c4a80" stroke="#eef3f8" stroke-width="0.8"/><text x="439.1" y="348.6" font-size="10.2" fill="#fff" text-anchor="middle" textLength="17.5" lengthAdjust="spacingAndGlyphs" font-family="Liberation Sans, sans-serif">GSH</text>
<rect x="445.6" y="327.8" width="19.0" height="10.0" fill="#f0542a"/><text x="455.1" y="336.6" font-size="10.8" fill="#fff" text-anchor="middle" textLength="17.0" lengthAdjust="spacingAndGlyphs" font-family="Liberation Sans, sans-serif">ROS</text>
<text x="542.3" y="310" font-size="10.8" font-weight="bold" text-anchor="middle" fill="#17458a" font-family="Liberation Sans, sans-serif">Slow</text>
<text x="542.1" y="322.5" font-size="10.8" font-weight="bold" text-anchor="middle" fill="#17458a" font-family="Liberation Sans, sans-serif">process</text>
<text x="538.6" y="351.8" font-size="10.8" font-weight="bold" text-anchor="middle" fill="#17458a" font-family="Liberation Sans, sans-serif">33 min</text>
<line x1="511.4" y1="334.6" x2="569" y2="334.6" stroke="#17458a" stroke-width="1.35"/>
<path d="M567.8,332 L573.6,334.6 L567.8,337.2 Z" fill="#17458a"/>
<ellipse cx="621.0" cy="324.0" rx="27.0" ry="20.0" fill="#bccbdb" stroke="#8a9cb1" stroke-width="0.5"/><g fill="#bccbdb"><circle cx="604.5" cy="304.6" r="8.3"/><circle cx="619.3" cy="302.0" r="8.3"/><circle cx="632.4" cy="304.6" r="8.3"/><circle cx="642.9" cy="311.6" r="8.3"/><circle cx="592.2" cy="314.2" r="8.3"/><circle cx="650.7" cy="325.6" r="9.4"/><circle cx="590.5" cy="328.2" r="8.1"/><circle cx="602.7" cy="337.8" r="8.3"/><circle cx="616.7" cy="328.2" r="8.3"/><circle cx="625.4" cy="335.2" r="9.2"/><circle cx="637.6" cy="337.8" r="8.3"/><circle cx="617.6" cy="346.5" r="8.1"/><circle cx="632.4" cy="345.6" r="8.3"/><circle cx="608.0" cy="319.4" r="7.4"/></g><polygon points="613.6,304.6 612.2,306.4 611.9,308.1 610.1,309.0 609.5,310.9 607.5,310.8 606.4,312.8 604.5,312.3 602.6,313.1 601.1,311.7 599.1,311.4 598.8,309.1 597.4,308.0 597.7,306.1 596.9,304.6 597.7,303.0 596.9,300.9 598.5,299.8 598.9,297.6 601.1,297.6 602.6,296.1 604.5,297.4 606.3,296.9 607.5,298.3 609.6,298.2 610.1,300.1 612.2,300.9 612.2,302.9" fill="#bccbdb" stroke="#8a9cb1" stroke-width="0.6"/><ellipse cx="604.8" cy="304.0" rx="3.6" ry="3.3" fill="#8aa0bb"/><polygon points="627.8,302.0 626.0,303.5 626.6,305.5 625.1,306.6 624.4,308.4 622.5,308.7 621.2,310.5 619.3,310.2 617.5,310.0 616.0,308.8 614.2,308.4 614.0,306.2 612.2,305.4 612.4,303.6 611.2,302.0 611.7,300.3 611.5,298.2 613.1,297.1 614.1,295.4 616.2,295.6 617.5,294.1 619.3,295.3 621.1,294.0 622.5,295.4 624.8,295.1 625.5,297.0 627.1,298.2 626.6,300.3" fill="#bccbdb" stroke="#8a9cb1" stroke-width="0.6"/><ellipse cx="620.2" cy="302.9" rx="3.6" ry="3.3" fill="#8aa0bb"/><polygon points="640.6,304.6 640.1,306.4 640.5,308.5 638.7,309.6 637.7,311.2 635.7,311.4 634.2,312.3 632.4,311.8 630.6,312.3 629.2,311.3 627.0,311.4 626.2,309.6 624.7,308.3 624.9,306.3 624.3,304.6 625.4,303.0 625.5,301.3 627.0,300.3 627.3,298.2 629.3,298.1 630.4,295.9 632.4,296.4 634.4,295.9 635.7,297.8 637.4,298.3 637.9,300.2 639.5,301.2 639.6,303.0" fill="#bccbdb" stroke="#8a9cb1" stroke-width="0.6"/><ellipse cx="631.2" cy="303.6" rx="3.6" ry="3.3" fill="#8aa0bb"/><polygon points="650.4,311.6 650.2,313.3 650.3,315.2 649.2,316.7 648.4,318.5 646.3,318.7 644.8,320.0 642.9,319.1 641.2,319.2 639.9,317.9 637.8,318.0 637.2,316.2 635.3,315.3 635.0,313.4 633.9,311.6 635.2,309.9 635.6,308.1 637.4,307.2 638.2,305.7 639.7,305.0 641.1,303.9 642.9,304.1 644.8,303.4 646.3,304.5 648.5,304.6 648.5,307.1 649.9,308.2 649.6,310.1" fill="#bccbdb" stroke="#8a9cb1" stroke-width="0.6"/><ellipse cx="643.4" cy="311.3" rx="3.6" ry="3.3" fill="#8aa0bb"/><polygon points="601.1,314.2 600.1,316.0 599.7,317.8 597.8,318.7 597.1,320.4 595.4,320.8 593.9,321.6 592.2,321.2 590.3,322.5 588.7,321.4 586.7,321.0 586.3,318.9 584.6,317.9 585.3,315.8 584.6,314.2 585.6,312.7 584.8,310.6 586.6,309.7 586.9,307.5 588.7,306.9 590.3,305.9 592.2,306.6 594.1,306.0 595.3,307.8 596.9,308.3 597.8,309.8 599.8,310.5 599.8,312.5" fill="#bccbdb" stroke="#8a9cb1" stroke-width="0.6"/><ellipse cx="593.3" cy="313.1" rx="3.6" ry="3.3" fill="#8aa0bb"/><polygon points="660.3,325.6 659.0,327.5 660.0,330.1 657.5,331.0 656.6,333.0 654.4,333.2 652.7,334.2 650.7,333.8 648.7,334.2 647.0,333.3 644.5,333.4 643.7,331.2 642.0,329.8 642.1,327.6 641.6,325.6 642.6,323.8 642.8,321.8 644.2,320.4 645.0,318.5 646.9,317.6 648.4,315.6 650.7,316.6 652.8,316.2 654.5,317.7 656.5,318.3 657.1,320.5 658.6,321.8 658.5,323.8" fill="#bccbdb" stroke="#8a9cb1" stroke-width="0.6"/><ellipse cx="651.0" cy="324.7" rx="4.1" ry="3.8" fill="#8aa0bb"/><polygon points="598.8,328.2 598.2,330.0 598.1,331.8 596.6,333.0 595.7,334.8 593.6,334.7 592.1,335.4 590.5,334.9 588.7,336.1 587.2,335.0 585.4,334.6 584.6,332.9 582.7,331.9 583.5,329.8 582.9,328.2 584.0,326.7 583.6,324.9 585.1,323.9 585.4,321.7 587.3,321.6 588.5,319.6 590.5,320.4 592.3,320.2 593.6,321.7 595.4,322.1 595.7,324.1 597.6,324.8 597.4,326.6" fill="#bccbdb" stroke="#8a9cb1" stroke-width="0.6"/><ellipse cx="590.5" cy="329.0" rx="3.5" ry="3.2" fill="#8aa0bb"/><polygon points="610.9,337.8 610.0,339.5 610.8,341.7 608.7,342.6 608.1,344.5 605.9,344.5 604.5,345.8 602.7,344.6 600.9,345.5 599.4,344.6 597.4,344.5 596.7,342.6 594.7,341.7 595.0,339.6 594.5,337.8 595.8,336.2 595.9,334.5 597.2,333.4 597.5,331.3 599.4,331.0 600.7,329.0 602.7,330.0 604.6,329.4 606.0,330.9 607.9,331.3 608.4,333.3 609.7,334.4 609.7,336.2" fill="#bccbdb" stroke="#8a9cb1" stroke-width="0.6"/><ellipse cx="601.8" cy="337.9" rx="3.6" ry="3.3" fill="#8aa0bb"/><polygon points="624.3,328.2 623.7,329.8 624.0,331.7 622.8,333.0 622.2,335.1 620.2,335.5 618.6,336.5 616.7,335.7 615.0,335.7 613.7,334.5 611.6,334.5 611.1,332.7 608.9,331.9 608.9,330.0 608.3,328.2 609.4,326.5 609.2,324.6 611.3,323.9 611.8,322.0 613.6,321.8 614.9,320.3 616.7,320.3 618.6,319.8 620.2,320.9 622.2,321.3 622.6,323.5 623.7,324.8 623.5,326.7" fill="#bccbdb" stroke="#8a9cb1" stroke-width="0.6"/><ellipse cx="617.8" cy="327.6" rx="3.6" ry="3.3" fill="#8aa0bb"/><polygon points="634.1,335.2 633.1,337.0 633.3,339.0 631.9,340.3 631.2,342.5 629.0,342.7 627.6,344.9 625.4,343.9 623.2,344.7 621.9,342.5 620.0,341.9 619.4,340.0 617.4,339.0 617.3,337.1 615.8,335.2 616.6,333.2 616.6,331.0 618.9,330.0 619.6,327.9 621.9,327.9 623.5,327.0 625.4,327.4 627.5,326.2 629.1,327.6 631.2,327.9 632.4,329.6 634.2,331.0 633.3,333.4" fill="#bccbdb" stroke="#8a9cb1" stroke-width="0.6"/><ellipse cx="625.9" cy="336.1" rx="4.0" ry="3.7" fill="#8aa0bb"/><polygon points="646.0,337.8 644.5,339.4 644.4,341.1 643.3,342.3 642.9,344.5 641.1,345.0 639.6,346.5 637.6,345.9 635.7,346.3 634.4,344.4 632.9,343.8 632.3,342.1 630.7,341.1 630.2,339.5 628.9,337.8 629.7,336.0 629.5,333.9 631.6,333.0 632.4,331.3 634.6,331.6 635.9,330.4 637.6,330.8 639.3,330.2 640.8,331.1 643.0,331.0 643.6,333.0 645.2,334.1 644.7,336.2" fill="#bccbdb" stroke="#8a9cb1" stroke-width="0.6"/><ellipse cx="637.5" cy="338.6" rx="3.6" ry="3.3" fill="#8aa0bb"/><polygon points="626.0,346.5 624.7,348.1 624.7,349.9 623.1,350.9 622.4,352.5 620.6,352.8 619.4,354.4 617.6,354.0 615.7,354.7 614.3,353.3 612.6,352.8 612.3,350.8 610.9,349.7 610.8,348.1 609.4,346.5 610.3,344.8 610.2,342.9 611.5,341.6 612.2,339.8 614.4,339.9 615.8,338.8 617.6,339.5 619.3,339.1 620.7,340.1 622.5,340.3 623.7,341.7 625.3,342.8 624.9,344.8" fill="#bccbdb" stroke="#8a9cb1" stroke-width="0.6"/><ellipse cx="617.9" cy="347.3" rx="3.5" ry="3.2" fill="#8aa0bb"/><polygon points="640.7,345.6 639.7,347.3 639.8,349.1 638.1,350.1 637.3,351.7 635.6,352.3 634.3,353.9 632.4,353.3 630.4,354.2 629.1,352.4 627.3,352.0 626.7,350.2 625.3,349.0 625.2,347.2 624.5,345.6 625.2,344.0 624.8,342.0 626.1,340.6 627.1,339.0 629.2,339.0 630.6,337.7 632.4,338.3 634.2,337.8 635.6,338.9 637.8,338.9 638.5,340.7 640.1,341.9 640.2,343.8" fill="#bccbdb" stroke="#8a9cb1" stroke-width="0.6"/><ellipse cx="631.7" cy="344.6" rx="3.6" ry="3.3" fill="#8aa0bb"/><polygon points="615.9,319.4 614.6,320.9 614.4,322.5 612.8,323.2 612.2,324.7 610.8,325.2 609.7,326.6 608.0,326.4 606.2,327.2 604.9,325.7 603.2,325.5 602.7,323.6 601.7,322.4 602.0,320.8 600.9,319.4 601.7,318.0 601.3,316.2 602.4,314.9 603.2,313.3 605.1,313.4 606.4,312.3 608.0,313.1 609.5,312.9 610.6,313.9 612.6,313.7 613.4,315.1 615.2,315.9 614.9,317.8" fill="#bccbdb" stroke="#8a9cb1" stroke-width="0.6"/><ellipse cx="607.3" cy="319.7" rx="3.3" ry="3.0" fill="#8aa0bb"/>
<path d="M614.9,341.3 L617.6,307.2 L621.1,307.2 L621.9,341.3 Z" fill="#3b3b4c" stroke="#6a6a88" stroke-width="0.4"/>
<circle cx="619.3" cy="308" r="2.8" fill="#3b3b4c"/>
<line x1="593.1" y1="310.4" x2="645.5" y2="310.4" stroke="#3d3d52" stroke-width="1.8"/>
<path d="M595.8,312 L593,316.3 L598.9,316.3 Z" fill="#3d3d52"/>
<path d="M641.5,312 L638.5,316.3 L644.6,316.3 Z" fill="#3d3d52"/>
<rect x="587.0" y="320.0" width="20.1" height="10.8" fill="#f0542a"/><text x="597.0" y="329.2" font-size="11" fill="#fff" text-anchor="middle" textLength="18.1" lengthAdjust="spacingAndGlyphs" font-family="Liberation Sans, sans-serif">ROS</text>
<ellipse cx="642.0" cy="325.6" rx="10.8" ry="7.2" fill="#1c4a80" stroke="#eef3f8" stroke-width="0.8"/><text x="642.0" y="329.2" font-size="10.2" fill="#fff" text-anchor="middle" textLength="17.5" lengthAdjust="spacingAndGlyphs" font-family="Liberation Sans, sans-serif">GSH</text>
<text x="618.2" y="368.7" font-size="10.9" font-weight="bold" text-anchor="middle" fill="#000" font-family="Liberation Sans, sans-serif">TME renovate</text>
</svg></body></html>
